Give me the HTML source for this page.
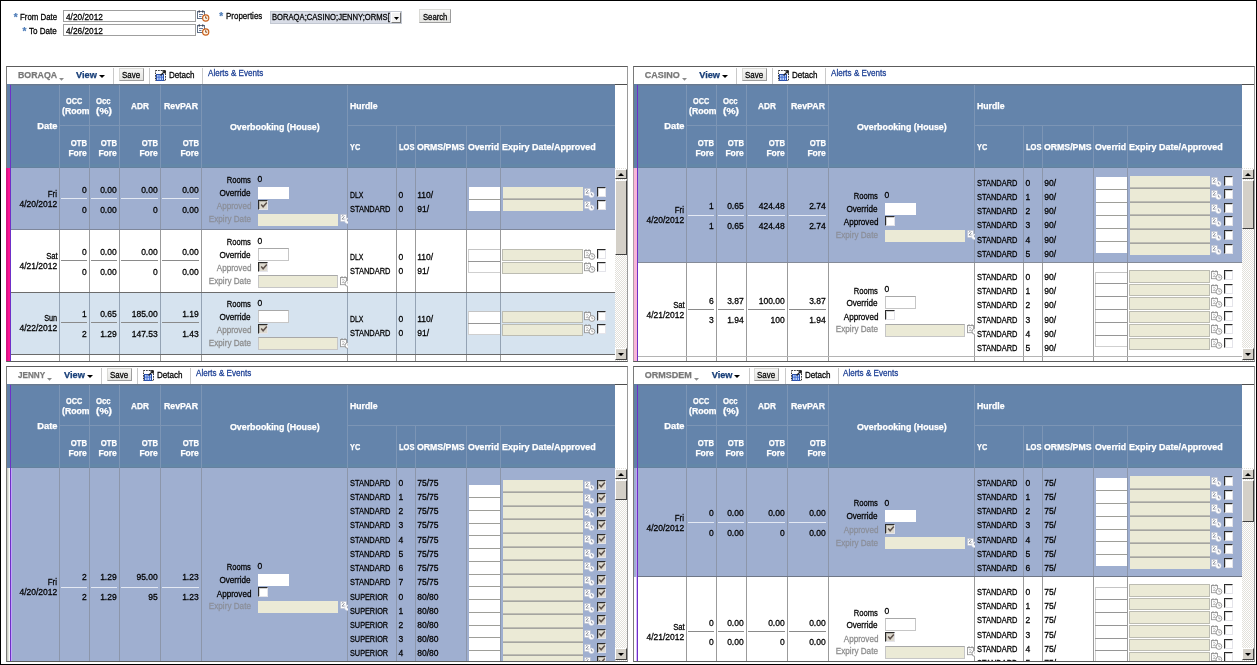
<!DOCTYPE html><html><head><meta charset="utf-8"><title>Overbooking</title><style>

html,body{margin:0;padding:0;}
body{width:1257px;height:665px;position:relative;overflow:hidden;background:#fff;font-family:"Liberation Sans",sans-serif;font-size:8.5px;}
.a{position:absolute;}
.t{position:absolute;white-space:pre;font-size:8.5px;line-height:10px;height:10px;color:#000;-webkit-text-stroke:0.26px;}
.b{font-weight:bold;-webkit-text-stroke:0.25px;}
.cb{position:absolute;width:9.5px;box-sizing:border-box;border:1px solid #E4E4EA;border-top:1px solid #2a2a2a;border-left:1px solid #2a2a2a;box-shadow:inset 1px 1px 0 rgba(0,0,0,0.18);}
.btn{box-sizing:border-box;background:linear-gradient(#F6F6F5,#E4E4E1);border:1px solid #DADAD6;border-right-color:#9c9c9c;border-bottom-color:#9c9c9c;}
.sbtrack{background:conic-gradient(#fff 25%,#E2E0DA 0 50%,#fff 0 75%,#E2E0DA 0) 0 0/2px 2px;}
.sbbtn{width:12px;box-sizing:border-box;background:#D4D0C8;border:1px solid #fff;border-right-color:#404040;border-bottom-color:#404040;}

</style></head><body><div class="a" style="left:0;top:0;width:1257px;height:665px;will-change:transform;">
<div class="t b" style="left:13.80px;top:12.5px;font-size:10px;color:#4f7db8;">*</div>
<div class="t" style="left:20.00px;top:12px;transform:scaleX(0.9239);transform-origin:0 0;">From Date</div>
<div class="t b" style="left:22.60px;top:26.5px;font-size:10px;color:#4f7db8;">*</div>
<div class="t" style="left:29.30px;top:26px;transform:scaleX(0.9489);transform-origin:0 0;">To Date</div>
<div class="a" style="left:63px;top:10px;width:133px;height:12px;background:#fff;box-sizing:border-box;border:1px solid #9f9f9f;"></div>
<div class="a" style="left:63px;top:24px;width:133px;height:12px;background:#fff;box-sizing:border-box;border:1px solid #9f9f9f;"></div>
<div class="t" style="left:66.40px;top:12px;transform:scaleX(0.9755);transform-origin:0 0;">4/20/2012</div>
<div class="t" style="left:66.40px;top:26px;transform:scaleX(0.9755);transform-origin:0 0;">4/26/2012</div>
<svg class="a" style="left:197px;top:10px" width="13" height="12" viewBox="0 0 13 12"><rect x="0.5" y="1.5" width="7" height="7" fill="#fff" stroke="#5f6f86"/><path d="M2.2 0.3v2.4M5.8 0.3v2.4" stroke="#334" stroke-width="1"/><path d="M2 4.5h4M2 6.5h2.5" stroke="#6a7a9a" stroke-width="1"/><circle cx="8.7" cy="8" r="3.1" fill="#fff6e8" stroke="#c9601c" stroke-width="1.2"/><path d="M8.7 6.2v2h1.5" stroke="#7a3a10" stroke-width="0.9" fill="none"/></svg>
<svg class="a" style="left:197px;top:24px" width="13" height="12" viewBox="0 0 13 12"><rect x="0.5" y="1.5" width="7" height="7" fill="#fff" stroke="#5f6f86"/><path d="M2.2 0.3v2.4M5.8 0.3v2.4" stroke="#334" stroke-width="1"/><path d="M2 4.5h4M2 6.5h2.5" stroke="#6a7a9a" stroke-width="1"/><circle cx="8.7" cy="8" r="3.1" fill="#fff6e8" stroke="#c9601c" stroke-width="1.2"/><path d="M8.7 6.2v2h1.5" stroke="#7a3a10" stroke-width="0.9" fill="none"/></svg>
<div class="t b" style="left:219.30px;top:11.5px;font-size:10px;color:#4f7db8;">*</div>
<div class="t" style="left:225.60px;top:11px;transform:scaleX(0.9368);transform-origin:0 0;">Properties</div>
<div class="a" style="left:270px;top:11px;width:132px;height:13px;background:#D8DCE6;box-sizing:border-box;border:1px solid #C3C8D2;"></div>
<div class="t" style="left:272.20px;top:12px;transform:scaleX(0.8977);transform-origin:0 0;">BORAQA;CASINO;JENNY;ORMS[</div>
<div class="a" style="left:391px;top:12px;width:10px;height:11px;box-sizing:border-box;background:#f3f3f3;border:1px solid #fff;border-right-color:#777;border-bottom-color:#777;"><svg width="5" height="3" viewBox="0 0 5 3" style="position:absolute;left:1.5px;top:4px"><path d="M0 0L2.5 3L5 0z" fill="#000"/></svg></div>
<div class="a btn" style="left:419px;top:9px;width:32px;height:14px"></div>
<div class="t" style="left:422.60px;top:12px;transform:scaleX(0.9021);transform-origin:0 0;">Search</div>
<div class="a" style="left:6px;top:66px;width:622px;height:296px;background:#fff;"></div>
<div class="t b" style="left:17.70px;top:70px;transform:scaleX(0.9775);transform-origin:0 0;font-size:9px;color:#787878;">BORAQA</div>
<svg class="a" style="left:58.8px;top:77.6px" width="5" height="3" viewBox="0 0 5 3"><path d="M0 0h5L2.5 2.8z" fill="#8c8c8c"/></svg>
<div class="t b" style="left:76.10px;top:70px;font-size:9.2px;color:#173E78;">View</div>
<svg class="a" style="left:98.7px;top:75px" width="6" height="3" viewBox="0 0 6 3"><path d="M0 0h6L3 3z" fill="#000"/></svg>
<div class="a" style="left:113px;top:68px;width:1px;height:16px;background:#c9c9c9;"></div>
<div class="a" style="left:149px;top:68px;width:1px;height:16px;background:#c9c9c9;"></div>
<div class="a" style="left:202px;top:68px;width:1px;height:16px;background:#c9c9c9;"></div>
<div class="a btn" style="left:119px;top:68px;width:25px;height:13px"></div>
<div class="t" style="left:122.20px;top:70px;transform:scaleX(0.9342);transform-origin:0 0;">Save</div>
<svg class="a" style="left:155px;top:70px" width="12" height="11" viewBox="0 0 12 11"><rect x="0.5" y="0.5" width="10" height="10" fill="#fff" stroke="#333" stroke-dasharray="1.6 1"/><rect x="1.5" y="4.5" width="7" height="6" fill="#b9d0f8" stroke="#2a4fa8"/><path d="M2 7.2h6M4 5v5.5M6.5 5v5.5" stroke="#3e6ad0" stroke-width="0.9"/><path d="M5.5 5.5L10 1M7.2 0.8h3v3" stroke="#222" stroke-width="1.2" fill="none"/></svg>
<div class="t" style="left:169.20px;top:70px;transform:scaleX(0.9466);transform-origin:0 0;">Detach</div>
<div class="t" style="left:207.60px;top:68px;transform:scaleX(0.9499);transform-origin:0 0;color:#1c3f94;">Alerts &amp; Events</div>
<div class="a" style="left:7px;top:84px;width:620px;height:1px;background:#4e4e4e;"></div>
<div class="a" style="left:7px;top:84px;width:608px;height:1px;background:#5A6E88;"></div>
<div class="a" style="left:7px;top:84px;width:608px;height:84px;background:#6484AB;"></div>
<div class="a" style="left:7px;top:84px;width:608px;height:1px;background:#67798F;"></div>
<div class="a" style="left:7px;top:85px;width:608px;height:1px;background:#69809E;"></div>
<div class="a" style="left:7px;top:164px;width:608px;height:3px;background:#6387A8;"></div>
<div class="a" style="left:7px;top:167px;width:608px;height:1px;background:#66819E;"></div>
<div class="a" style="left:7px;top:84px;width:3px;height:84px;background:#6080A6;"></div>
<div class="a" style="left:59px;top:85px;width:1px;height:83px;background:#7C95B5;"></div>
<div class="a" style="left:89px;top:85px;width:1px;height:83px;background:#7C95B5;"></div>
<div class="a" style="left:119px;top:85px;width:1px;height:83px;background:#7C95B5;"></div>
<div class="a" style="left:160px;top:85px;width:1px;height:83px;background:#7C95B5;"></div>
<div class="a" style="left:201px;top:85px;width:1px;height:83px;background:#7C95B5;"></div>
<div class="a" style="left:347px;top:85px;width:1px;height:83px;background:#7C95B5;"></div>
<div class="a" style="left:396px;top:126px;width:1px;height:42px;background:#7C95B5;"></div>
<div class="a" style="left:415px;top:126px;width:1px;height:42px;background:#7C95B5;"></div>
<div class="a" style="left:466px;top:126px;width:1px;height:42px;background:#7C95B5;"></div>
<div class="a" style="left:500px;top:126px;width:1px;height:42px;background:#7C95B5;"></div>
<div class="a" style="left:60px;top:125px;width:141px;height:1px;background:#7C95B5;"></div>
<div class="a" style="left:348px;top:125px;width:267px;height:1px;background:#7C95B5;"></div>
<div class="t b" style="left:38.86px;top:120.6px;transform:scaleX(1.0956);transform-origin:100% 0;color:#fff;">Date</div>
<div class="t b" style="left:65.70px;top:96px;transform:scaleX(0.8576);transform-origin:0 0;color:#fff;">OCC</div>
<div class="a" style="left:61.50px;top:106px;width:27.5px;height:11px;overflow:hidden"><div class="t b" style="left:0;top:0;transform:scaleX(1.0215);transform-origin:0 0;color:#fff;">(Room</div></div>
<div class="t b" style="left:96.40px;top:96px;transform:scaleX(0.9143);transform-origin:0 0;color:#fff;">Occ</div>
<div class="t b" style="left:96.40px;top:106px;transform:scaleX(1.2014);transform-origin:0 0;color:#fff;">(%)</div>
<div class="t b" style="left:130.80px;top:101.3px;transform:scaleX(0.9717);transform-origin:0 0;color:#fff;">ADR</div>
<div class="t b" style="left:164.00px;top:101.3px;transform:scaleX(1.0327);transform-origin:0 0;color:#fff;">RevPAR</div>
<div class="t b" style="left:68.85px;top:138px;transform:scaleX(0.9023);transform-origin:100% 0;color:#fff;">OTB</div>
<div class="t b" style="left:68.38px;top:148px;color:#fff;">Fore</div>
<div class="t b" style="left:98.85px;top:138px;transform:scaleX(0.9023);transform-origin:100% 0;color:#fff;">OTB</div>
<div class="t b" style="left:98.38px;top:148px;color:#fff;">Fore</div>
<div class="t b" style="left:139.85px;top:138px;transform:scaleX(0.9023);transform-origin:100% 0;color:#fff;">OTB</div>
<div class="t b" style="left:139.38px;top:148px;color:#fff;">Fore</div>
<div class="t b" style="left:180.85px;top:138px;transform:scaleX(0.9023);transform-origin:100% 0;color:#fff;">OTB</div>
<div class="t b" style="left:180.38px;top:148px;color:#fff;">Fore</div>
<div class="t b" style="left:229.80px;top:121.80000000000001px;transform:scaleX(1.0377);transform-origin:0 0;color:#fff;">Overbooking (House)</div>
<div class="t b" style="left:349.90px;top:101.3px;transform:scaleX(1.0215);transform-origin:0 0;color:#fff;">Hurdle</div>
<div class="t b" style="left:349.90px;top:142.3px;transform:scaleX(0.8635);transform-origin:0 0;color:#fff;">YC</div>
<div class="t b" style="left:398.50px;top:142.3px;transform:scaleX(0.8865);transform-origin:0 0;color:#fff;">LOS</div>
<div class="t b" style="left:417.30px;top:142.3px;transform:scaleX(1.0263);transform-origin:0 0;color:#fff;">ORMS/PMS</div>
<div class="a" style="left:468.40px;top:142.3px;width:31.2px;height:11px;overflow:hidden"><div class="t b" style="left:0;top:0;transform:scaleX(1.0248);transform-origin:0 0;color:#fff;">Overrid</div></div>
<div class="t b" style="left:502.40px;top:142.3px;transform:scaleX(1.0562);transform-origin:0 0;color:#fff;">Expiry Date/Approved</div>
<div class="a" style="left:7px;top:168px;width:608px;height:193px;overflow:hidden;">
<div class="a" style="left:0px;top:0px;width:608px;height:62px;background:#9FAFD0;"></div>
<div class="a" style="left:0px;top:0px;width:4px;height:62px;background:linear-gradient(90deg,#D31383,#FA1491 35%,#FF1593 60%,#DC1488);"></div>
<div class="a" style="left:52px;top:0px;width:1px;height:62px;background:#8C96AA;"></div>
<div class="a" style="left:82px;top:0px;width:1px;height:62px;background:#8C96AA;"></div>
<div class="a" style="left:112px;top:0px;width:1px;height:62px;background:#8C96AA;"></div>
<div class="a" style="left:153px;top:0px;width:1px;height:62px;background:#8C96AA;"></div>
<div class="a" style="left:194px;top:0px;width:1px;height:62px;background:#8C96AA;"></div>
<div class="a" style="left:340px;top:0px;width:1px;height:62px;background:#8C96AA;"></div>
<div class="a" style="left:389px;top:0px;width:1px;height:62px;background:#8C96AA;"></div>
<div class="a" style="left:408px;top:0px;width:1px;height:62px;background:#8C96AA;"></div>
<div class="a" style="left:459px;top:0px;width:1px;height:62px;background:#8C96AA;"></div>
<div class="a" style="left:493px;top:0px;width:1px;height:62px;background:#8C96AA;"></div>
<div class="a" style="left:4px;top:61px;width:604px;height:1px;background:#7E879B;"></div>
<div class="t" style="left:40.38px;top:21px;transform:scaleX(0.9272);transform-origin:100% 0;">Fri</div>
<div class="t" style="left:12.47px;top:31px;">4/20/2012</div>
<div class="t" style="left:74.97px;top:17px;">0</div>
<div class="t" style="left:74.97px;top:37px;">0</div>
<div class="a" style="left:54px;top:30px;width:26px;height:1px;background:#E4E9F3;"></div>
<div class="t" style="left:93.15px;top:17px;">0.00</div>
<div class="t" style="left:93.15px;top:37px;">0.00</div>
<div class="a" style="left:84px;top:30px;width:26px;height:1px;background:#E4E9F3;"></div>
<div class="t" style="left:134.15px;top:17px;">0.00</div>
<div class="t" style="left:145.97px;top:37px;">0</div>
<div class="a" style="left:114px;top:30px;width:37px;height:1px;background:#E4E9F3;"></div>
<div class="t" style="left:175.15px;top:17px;">0.00</div>
<div class="t" style="left:175.15px;top:37px;">0.00</div>
<div class="a" style="left:155px;top:30px;width:37px;height:1px;background:#E4E9F3;"></div>
<div class="t" style="left:217.06px;top:7px;transform:scaleX(0.8984);transform-origin:100% 0;">Rooms</div>
<div class="t" style="left:250.40px;top:6px;">0</div>
<div class="t" style="left:211.41px;top:20px;transform:scaleX(0.9572);transform-origin:100% 0;">Override</div>
<div class="a" style="left:251px;top:19px;width:31px;height:11.5px;background:#fff;"></div>
<div class="t" style="left:207.61px;top:33px;transform:scaleX(0.9508);transform-origin:100% 0;color:#8b8f9a;">Approved</div>
<div class="cb" style="left:251px;top:32px;height:9.5px;background:#DDD9CF"><svg width="8" height="8" viewBox="0 0 8 8" style="position:absolute;left:0.5px;top:0px"><path d="M1.2 3.6l1.9 2.2l3.7-4.4" stroke="#5d514b" stroke-width="1.5" fill="none"/></svg></div>
<div class="t" style="left:200.06px;top:46px;transform:scaleX(0.9582);transform-origin:100% 0;color:#8b8f9a;">Expiry Date</div>
<div class="a" style="left:251px;top:46px;width:80px;height:11.5px;background:#EBEAD6;"></div>
<div class="a" style="left:332.5px;top:46px;width:8.5px;height:12px;overflow:hidden">
<svg class="a" style="left:0px;top:0px" width="11" height="10" viewBox="0 0 11 10"><rect x="0.3" y="0.3" width="6.2" height="7.4" fill="#fff" stroke="#aeb5c6" stroke-width="0.6"/><path d="M1.6 2.6l1.4-1.2l1.3 1.3l-2.4 2.4h2.8" stroke="#8a8f9c" stroke-width="0.9" fill="none"/><circle cx="7.4" cy="6.8" r="2.7" fill="#fff" stroke="#cfd4e0" stroke-width="0.6"/><path d="M7.4 5.2v1.8h1.5" stroke="#7c8294" stroke-width="0.8" fill="none"/></svg>
</div>
<div class="t" style="left:342.60px;top:22px;transform:scaleX(0.8098);transform-origin:0 0;">DLX</div>
<div class="t" style="left:391.60px;top:22px;">0</div>
<div class="t" style="left:410.20px;top:22px;">110/</div>
<div class="t" style="left:342.60px;top:36px;transform:scaleX(0.8759);transform-origin:0 0;">STANDARD</div>
<div class="t" style="left:391.60px;top:36px;">0</div>
<div class="t" style="left:410.20px;top:36px;">91/</div>
<div class="a" style="left:462px;top:19px;width:31px;height:12px;background:#fff;"></div>
<div class="a" style="left:462px;top:31px;width:31px;height:1px;background:#9E9E99;"></div>
<div class="a" style="left:496px;top:19px;width:80px;height:11px;background:#EBEAD6;"></div>
<div class="a" style="left:496px;top:30px;width:80px;height:1px;background:#BDBCB3;"></div>
<div class="a" style="left:496px;top:31px;width:80px;height:1px;background:#A5A5A0;"></div>
<svg class="a" style="left:576.9px;top:20px" width="11" height="10" viewBox="0 0 11 10"><rect x="0.3" y="0.3" width="6.2" height="7.4" fill="#fff" stroke="#aeb5c6" stroke-width="0.6"/><path d="M1.6 2.6l1.4-1.2l1.3 1.3l-2.4 2.4h2.8" stroke="#8a8f9c" stroke-width="0.9" fill="none"/><circle cx="7.4" cy="6.8" r="2.7" fill="#fff" stroke="#cfd4e0" stroke-width="0.6"/><path d="M7.4 5.2v1.8h1.5" stroke="#7c8294" stroke-width="0.8" fill="none"/></svg>
<div class="cb" style="left:589.8px;top:19px;height:9.5px;background:#fff"></div>
<div class="a" style="left:462px;top:32px;width:31px;height:11px;background:#fff;"></div>
<div class="a" style="left:496px;top:32px;width:80px;height:11px;background:#EBEAD6;"></div>
<svg class="a" style="left:576.9px;top:33px" width="11" height="10" viewBox="0 0 11 10"><rect x="0.3" y="0.3" width="6.2" height="7.4" fill="#fff" stroke="#aeb5c6" stroke-width="0.6"/><path d="M1.6 2.6l1.4-1.2l1.3 1.3l-2.4 2.4h2.8" stroke="#8a8f9c" stroke-width="0.9" fill="none"/><circle cx="7.4" cy="6.8" r="2.7" fill="#fff" stroke="#cfd4e0" stroke-width="0.6"/><path d="M7.4 5.2v1.8h1.5" stroke="#7c8294" stroke-width="0.8" fill="none"/></svg>
<div class="cb" style="left:589.8px;top:32px;height:9.5px;background:#fff"></div>
<div class="a" style="left:0px;top:62px;width:608px;height:63px;background:#FFFFFF;"></div>
<div class="a" style="left:0px;top:62px;width:4px;height:63px;background:linear-gradient(90deg,#D31383,#FA1491 35%,#FF1593 60%,#DC1488);"></div>
<div class="a" style="left:52px;top:62px;width:1px;height:63px;background:#9B9B9B;"></div>
<div class="a" style="left:82px;top:62px;width:1px;height:63px;background:#9B9B9B;"></div>
<div class="a" style="left:112px;top:62px;width:1px;height:63px;background:#9B9B9B;"></div>
<div class="a" style="left:153px;top:62px;width:1px;height:63px;background:#9B9B9B;"></div>
<div class="a" style="left:194px;top:62px;width:1px;height:63px;background:#9B9B9B;"></div>
<div class="a" style="left:340px;top:62px;width:1px;height:63px;background:#9B9B9B;"></div>
<div class="a" style="left:389px;top:62px;width:1px;height:63px;background:#9B9B9B;"></div>
<div class="a" style="left:408px;top:62px;width:1px;height:63px;background:#9B9B9B;"></div>
<div class="a" style="left:459px;top:62px;width:1px;height:63px;background:#9B9B9B;"></div>
<div class="a" style="left:493px;top:62px;width:1px;height:63px;background:#9B9B9B;"></div>
<div class="a" style="left:4px;top:124px;width:604px;height:1px;background:#6C6C6C;"></div>
<div class="t" style="left:37.53px;top:83px;transform:scaleX(0.9087);transform-origin:100% 0;">Sat</div>
<div class="t" style="left:12.47px;top:93px;">4/21/2012</div>
<div class="t" style="left:74.97px;top:79px;">0</div>
<div class="t" style="left:74.97px;top:99px;">0</div>
<div class="a" style="left:54px;top:92px;width:26px;height:1px;background:#8a8a8a;"></div>
<div class="t" style="left:93.15px;top:79px;">0.00</div>
<div class="t" style="left:93.15px;top:99px;">0.00</div>
<div class="a" style="left:84px;top:92px;width:26px;height:1px;background:#8a8a8a;"></div>
<div class="t" style="left:134.15px;top:79px;">0.00</div>
<div class="t" style="left:145.97px;top:99px;">0</div>
<div class="a" style="left:114px;top:92px;width:37px;height:1px;background:#8a8a8a;"></div>
<div class="t" style="left:175.15px;top:79px;">0.00</div>
<div class="t" style="left:175.15px;top:99px;">0.00</div>
<div class="a" style="left:155px;top:92px;width:37px;height:1px;background:#8a8a8a;"></div>
<div class="t" style="left:217.06px;top:69px;transform:scaleX(0.8984);transform-origin:100% 0;">Rooms</div>
<div class="t" style="left:250.40px;top:68px;">0</div>
<div class="t" style="left:211.41px;top:82px;transform:scaleX(0.9572);transform-origin:100% 0;">Override</div>
<div class="a" style="left:251px;top:80px;width:31px;height:13px;background:#fff;box-sizing:border-box;border:1px solid #c6c6c6;border-top-color:#a8a8a8;"></div>
<div class="t" style="left:207.61px;top:95px;transform:scaleX(0.9508);transform-origin:100% 0;color:#8d8d8d;">Approved</div>
<div class="cb" style="left:251px;top:94px;height:9.5px;background:#DDD9CF"><svg width="8" height="8" viewBox="0 0 8 8" style="position:absolute;left:0.5px;top:0px"><path d="M1.2 3.6l1.9 2.2l3.7-4.4" stroke="#5d514b" stroke-width="1.5" fill="none"/></svg></div>
<div class="t" style="left:200.06px;top:108px;transform:scaleX(0.9582);transform-origin:100% 0;color:#8d8d8d;">Expiry Date</div>
<div class="a" style="left:251px;top:107px;width:80px;height:12.5px;background:#EBEAD6;box-sizing:border-box;border:1px solid #c6c6c6;border-top-color:#a8a8a8;"></div>
<div class="a" style="left:332.5px;top:108px;width:8.5px;height:12px;overflow:hidden">
<svg class="a" style="left:0px;top:0px" width="12" height="11" viewBox="0 0 12 11"><rect x="0.5" y="1.5" width="6" height="7.2" fill="#fff" stroke="#979797" stroke-width="0.9"/><path d="M2 0.2v2M5 0.2v2" stroke="#8e8e8e" stroke-width="1"/><path d="M2 4.2l1.2-1l1.2 1.1l-2.2 2.3h2.6" stroke="#a9a9a9" stroke-width="0.8" fill="none"/><circle cx="7.9" cy="7.5" r="2.9" fill="#fff" stroke="#8f8f8f" stroke-width="0.9"/><path d="M7.9 5.9v1.8h1.5" stroke="#9a9a9a" stroke-width="0.8" fill="none"/></svg>
</div>
<div class="t" style="left:342.60px;top:84px;transform:scaleX(0.8098);transform-origin:0 0;">DLX</div>
<div class="t" style="left:391.60px;top:84px;">0</div>
<div class="t" style="left:410.20px;top:84px;">110/</div>
<div class="t" style="left:342.60px;top:98px;transform:scaleX(0.8759);transform-origin:0 0;">STANDARD</div>
<div class="t" style="left:391.60px;top:98px;">0</div>
<div class="t" style="left:410.20px;top:98px;">91/</div>
<div class="a" style="left:461px;top:81px;width:32px;height:12px;background:#fff;box-sizing:border-box;border-left:1px solid #d2d2d2;border-top:1px solid #c4c4c4;"></div>
<div class="a" style="left:461px;top:93px;width:32px;height:1px;background:#969696;"></div>
<div class="a" style="left:495px;top:81px;width:81px;height:12px;background:#EBEAD6;box-sizing:border-box;border:1px solid #BCBCB2;"></div>
<svg class="a" style="left:576.9px;top:81px" width="12" height="11" viewBox="0 0 12 11"><rect x="0.5" y="1.5" width="6" height="7.2" fill="#fff" stroke="#979797" stroke-width="0.9"/><path d="M2 0.2v2M5 0.2v2" stroke="#8e8e8e" stroke-width="1"/><path d="M2 4.2l1.2-1l1.2 1.1l-2.2 2.3h2.6" stroke="#a9a9a9" stroke-width="0.8" fill="none"/><circle cx="7.9" cy="7.5" r="2.9" fill="#fff" stroke="#8f8f8f" stroke-width="0.9"/><path d="M7.9 5.9v1.8h1.5" stroke="#9a9a9a" stroke-width="0.8" fill="none"/></svg>
<div class="cb" style="left:589.8px;top:81px;height:9.5px;background:#fff"></div>
<div class="a" style="left:461px;top:94px;width:32px;height:11px;background:#fff;box-sizing:border-box;border-left:1px solid #d2d2d2;border-bottom:1px solid #cfcfcf;"></div>
<div class="a" style="left:495px;top:94px;width:81px;height:12px;background:#EBEAD6;box-sizing:border-box;border:1px solid #BCBCB2;"></div>
<svg class="a" style="left:576.9px;top:94px" width="12" height="11" viewBox="0 0 12 11"><rect x="0.5" y="1.5" width="6" height="7.2" fill="#fff" stroke="#979797" stroke-width="0.9"/><path d="M2 0.2v2M5 0.2v2" stroke="#8e8e8e" stroke-width="1"/><path d="M2 4.2l1.2-1l1.2 1.1l-2.2 2.3h2.6" stroke="#a9a9a9" stroke-width="0.8" fill="none"/><circle cx="7.9" cy="7.5" r="2.9" fill="#fff" stroke="#8f8f8f" stroke-width="0.9"/><path d="M7.9 5.9v1.8h1.5" stroke="#9a9a9a" stroke-width="0.8" fill="none"/></svg>
<div class="cb" style="left:589.8px;top:94px;height:9.5px;background:#fff"></div>
<div class="a" style="left:0px;top:125px;width:608px;height:62px;background:#D6E3EF;"></div>
<div class="a" style="left:0px;top:125px;width:4px;height:62px;background:linear-gradient(90deg,#D31383,#FA1491 35%,#FF1593 60%,#DC1488);"></div>
<div class="a" style="left:52px;top:125px;width:1px;height:62px;background:#94A3B4;"></div>
<div class="a" style="left:82px;top:125px;width:1px;height:62px;background:#94A3B4;"></div>
<div class="a" style="left:112px;top:125px;width:1px;height:62px;background:#94A3B4;"></div>
<div class="a" style="left:153px;top:125px;width:1px;height:62px;background:#94A3B4;"></div>
<div class="a" style="left:194px;top:125px;width:1px;height:62px;background:#94A3B4;"></div>
<div class="a" style="left:340px;top:125px;width:1px;height:62px;background:#94A3B4;"></div>
<div class="a" style="left:389px;top:125px;width:1px;height:62px;background:#94A3B4;"></div>
<div class="a" style="left:408px;top:125px;width:1px;height:62px;background:#94A3B4;"></div>
<div class="a" style="left:459px;top:125px;width:1px;height:62px;background:#94A3B4;"></div>
<div class="a" style="left:493px;top:125px;width:1px;height:62px;background:#94A3B4;"></div>
<div class="a" style="left:4px;top:186px;width:604px;height:1px;background:#6A6A6A;"></div>
<div class="t" style="left:35.17px;top:145px;transform:scaleX(0.8595);transform-origin:100% 0;">Sun</div>
<div class="t" style="left:12.47px;top:155px;">4/22/2012</div>
<div class="t" style="left:74.97px;top:141px;">1</div>
<div class="t" style="left:74.97px;top:161px;">2</div>
<div class="a" style="left:54px;top:154px;width:26px;height:1px;background:#8a8a8a;"></div>
<div class="t" style="left:93.15px;top:141px;">0.65</div>
<div class="t" style="left:93.15px;top:161px;">1.29</div>
<div class="a" style="left:84px;top:154px;width:26px;height:1px;background:#8a8a8a;"></div>
<div class="t" style="left:124.70px;top:141px;">185.00</div>
<div class="t" style="left:124.70px;top:161px;">147.53</div>
<div class="a" style="left:114px;top:154px;width:37px;height:1px;background:#8a8a8a;"></div>
<div class="t" style="left:175.15px;top:141px;">1.19</div>
<div class="t" style="left:175.15px;top:161px;">1.43</div>
<div class="a" style="left:155px;top:154px;width:37px;height:1px;background:#8a8a8a;"></div>
<div class="t" style="left:217.06px;top:131px;transform:scaleX(0.8984);transform-origin:100% 0;">Rooms</div>
<div class="t" style="left:250.40px;top:130px;">0</div>
<div class="t" style="left:211.41px;top:144px;transform:scaleX(0.9572);transform-origin:100% 0;">Override</div>
<div class="a" style="left:251px;top:142px;width:31px;height:13px;background:#fff;box-sizing:border-box;border:1px solid #c6c6c6;border-top-color:#a8a8a8;"></div>
<div class="t" style="left:207.61px;top:157px;transform:scaleX(0.9508);transform-origin:100% 0;color:#8d8d8d;">Approved</div>
<div class="cb" style="left:251px;top:156px;height:9.5px;background:#DDD9CF"><svg width="8" height="8" viewBox="0 0 8 8" style="position:absolute;left:0.5px;top:0px"><path d="M1.2 3.6l1.9 2.2l3.7-4.4" stroke="#5d514b" stroke-width="1.5" fill="none"/></svg></div>
<div class="t" style="left:200.06px;top:170px;transform:scaleX(0.9582);transform-origin:100% 0;color:#8d8d8d;">Expiry Date</div>
<div class="a" style="left:251px;top:169px;width:80px;height:12.5px;background:#EBEAD6;box-sizing:border-box;border:1px solid #c6c6c6;border-top-color:#a8a8a8;"></div>
<div class="a" style="left:332.5px;top:170px;width:8.5px;height:12px;overflow:hidden">
<svg class="a" style="left:0px;top:0px" width="12" height="11" viewBox="0 0 12 11"><rect x="0.5" y="1.5" width="6" height="7.2" fill="#fff" stroke="#979797" stroke-width="0.9"/><path d="M2 0.2v2M5 0.2v2" stroke="#8e8e8e" stroke-width="1"/><path d="M2 4.2l1.2-1l1.2 1.1l-2.2 2.3h2.6" stroke="#a9a9a9" stroke-width="0.8" fill="none"/><circle cx="7.9" cy="7.5" r="2.9" fill="#fff" stroke="#8f8f8f" stroke-width="0.9"/><path d="M7.9 5.9v1.8h1.5" stroke="#9a9a9a" stroke-width="0.8" fill="none"/></svg>
</div>
<div class="t" style="left:342.60px;top:146px;transform:scaleX(0.8098);transform-origin:0 0;">DLX</div>
<div class="t" style="left:391.60px;top:146px;">0</div>
<div class="t" style="left:410.20px;top:146px;">110/</div>
<div class="t" style="left:342.60px;top:160px;transform:scaleX(0.8759);transform-origin:0 0;">STANDARD</div>
<div class="t" style="left:391.60px;top:160px;">0</div>
<div class="t" style="left:410.20px;top:160px;">91/</div>
<div class="a" style="left:461px;top:143px;width:32px;height:12px;background:#fff;box-sizing:border-box;border-left:1px solid #d2d2d2;border-top:1px solid #c4c4c4;"></div>
<div class="a" style="left:461px;top:155px;width:32px;height:1px;background:#969696;"></div>
<div class="a" style="left:495px;top:143px;width:81px;height:12px;background:#EBEAD6;box-sizing:border-box;border:1px solid #BCBCB2;"></div>
<svg class="a" style="left:576.9px;top:143px" width="12" height="11" viewBox="0 0 12 11"><rect x="0.5" y="1.5" width="6" height="7.2" fill="#fff" stroke="#979797" stroke-width="0.9"/><path d="M2 0.2v2M5 0.2v2" stroke="#8e8e8e" stroke-width="1"/><path d="M2 4.2l1.2-1l1.2 1.1l-2.2 2.3h2.6" stroke="#a9a9a9" stroke-width="0.8" fill="none"/><circle cx="7.9" cy="7.5" r="2.9" fill="#fff" stroke="#8f8f8f" stroke-width="0.9"/><path d="M7.9 5.9v1.8h1.5" stroke="#9a9a9a" stroke-width="0.8" fill="none"/></svg>
<div class="cb" style="left:589.8px;top:143px;height:9.5px;background:#fff"></div>
<div class="a" style="left:461px;top:156px;width:32px;height:11px;background:#fff;box-sizing:border-box;border-left:1px solid #d2d2d2;border-bottom:1px solid #cfcfcf;"></div>
<div class="a" style="left:495px;top:156px;width:81px;height:12px;background:#EBEAD6;box-sizing:border-box;border:1px solid #BCBCB2;"></div>
<svg class="a" style="left:576.9px;top:156px" width="12" height="11" viewBox="0 0 12 11"><rect x="0.5" y="1.5" width="6" height="7.2" fill="#fff" stroke="#979797" stroke-width="0.9"/><path d="M2 0.2v2M5 0.2v2" stroke="#8e8e8e" stroke-width="1"/><path d="M2 4.2l1.2-1l1.2 1.1l-2.2 2.3h2.6" stroke="#a9a9a9" stroke-width="0.8" fill="none"/><circle cx="7.9" cy="7.5" r="2.9" fill="#fff" stroke="#8f8f8f" stroke-width="0.9"/><path d="M7.9 5.9v1.8h1.5" stroke="#9a9a9a" stroke-width="0.8" fill="none"/></svg>
<div class="cb" style="left:589.8px;top:156px;height:9.5px;background:#fff"></div>
<div class="a" style="left:0px;top:187px;width:608px;height:10px;background:#FFFFFF;"></div>
<div class="a" style="left:0px;top:187px;width:4px;height:10px;background:linear-gradient(90deg,#D31383,#FA1491 35%,#FF1593 60%,#DC1488);"></div>
<div class="a" style="left:52px;top:187px;width:1px;height:10px;background:#9B9B9B;"></div>
<div class="a" style="left:82px;top:187px;width:1px;height:10px;background:#9B9B9B;"></div>
<div class="a" style="left:112px;top:187px;width:1px;height:10px;background:#9B9B9B;"></div>
<div class="a" style="left:153px;top:187px;width:1px;height:10px;background:#9B9B9B;"></div>
<div class="a" style="left:194px;top:187px;width:1px;height:10px;background:#9B9B9B;"></div>
<div class="a" style="left:340px;top:187px;width:1px;height:10px;background:#9B9B9B;"></div>
<div class="a" style="left:389px;top:187px;width:1px;height:10px;background:#9B9B9B;"></div>
<div class="a" style="left:408px;top:187px;width:1px;height:10px;background:#9B9B9B;"></div>
<div class="a" style="left:459px;top:187px;width:1px;height:10px;background:#9B9B9B;"></div>
<div class="a" style="left:493px;top:187px;width:1px;height:10px;background:#9B9B9B;"></div>
</div>
<div class="a" style="left:10px;top:85px;width:1px;height:276px;background:#6E30C8;"></div>
<div class="a" style="left:615px;top:85px;width:12px;height:83px;background:#fff;"></div>
<div class="a sbtrack" style="left:615px;top:168px;width:12px;height:193px;"></div>
<div class="a sbbtn" style="left:615px;top:169px;height:10px"><svg width="6" height="3" viewBox="0 0 6 3" style="position:absolute;left:2px;top:3px"><path d="M0 3L3 0L6 3z" fill="#000"/></svg></div>
<div class="a sbbtn" style="left:615px;top:348px;height:12px"><svg width="6" height="3" viewBox="0 0 6 3" style="position:absolute;left:2px;top:4px"><path d="M0 0L3 3L6 0z" fill="#000"/></svg></div>
<div class="a sbbtn" style="left:615px;top:180px;height:75px"></div>
<div class="a" style="left:6px;top:66px;width:622px;height:296px;box-sizing:border-box;border:1px solid #5c5c5c;border-left-color:#7a7a7a;border-right-color:#9a9a9a;"></div>
<div class="a" style="left:6px;top:168px;width:1px;height:193px;background:#D31383;"></div>
<div class="a" style="left:633px;top:66px;width:622px;height:296px;background:#fff;"></div>
<div class="t b" style="left:644.70px;top:70px;font-size:9px;color:#787878;">CASINO</div>
<svg class="a" style="left:681.9px;top:77.6px" width="5" height="3" viewBox="0 0 5 3"><path d="M0 0h5L2.5 2.8z" fill="#8c8c8c"/></svg>
<div class="t b" style="left:699.20px;top:70px;font-size:9.2px;color:#173E78;">View</div>
<svg class="a" style="left:721.8px;top:75px" width="6" height="3" viewBox="0 0 6 3"><path d="M0 0h6L3 3z" fill="#000"/></svg>
<div class="a" style="left:736px;top:68px;width:1px;height:16px;background:#c9c9c9;"></div>
<div class="a" style="left:772px;top:68px;width:1px;height:16px;background:#c9c9c9;"></div>
<div class="a" style="left:825px;top:68px;width:1px;height:16px;background:#c9c9c9;"></div>
<div class="a btn" style="left:742px;top:68px;width:25px;height:13px"></div>
<div class="t" style="left:745.20px;top:70px;transform:scaleX(0.9342);transform-origin:0 0;">Save</div>
<svg class="a" style="left:778px;top:70px" width="12" height="11" viewBox="0 0 12 11"><rect x="0.5" y="0.5" width="10" height="10" fill="#fff" stroke="#333" stroke-dasharray="1.6 1"/><rect x="1.5" y="4.5" width="7" height="6" fill="#b9d0f8" stroke="#2a4fa8"/><path d="M2 7.2h6M4 5v5.5M6.5 5v5.5" stroke="#3e6ad0" stroke-width="0.9"/><path d="M5.5 5.5L10 1M7.2 0.8h3v3" stroke="#222" stroke-width="1.2" fill="none"/></svg>
<div class="t" style="left:792.30px;top:70px;transform:scaleX(0.9466);transform-origin:0 0;">Detach</div>
<div class="t" style="left:830.70px;top:68px;transform:scaleX(0.9499);transform-origin:0 0;color:#1c3f94;">Alerts &amp; Events</div>
<div class="a" style="left:634px;top:84px;width:620px;height:1px;background:#4e4e4e;"></div>
<div class="a" style="left:634px;top:84px;width:608px;height:1px;background:#5A6E88;"></div>
<div class="a" style="left:634px;top:84px;width:608px;height:84px;background:#6484AB;"></div>
<div class="a" style="left:634px;top:84px;width:608px;height:1px;background:#67798F;"></div>
<div class="a" style="left:634px;top:85px;width:608px;height:1px;background:#69809E;"></div>
<div class="a" style="left:634px;top:164px;width:608px;height:3px;background:#6387A8;"></div>
<div class="a" style="left:634px;top:167px;width:608px;height:1px;background:#66819E;"></div>
<div class="a" style="left:634px;top:84px;width:3px;height:84px;background:#6080A6;"></div>
<div class="a" style="left:686px;top:85px;width:1px;height:83px;background:#7C95B5;"></div>
<div class="a" style="left:716px;top:85px;width:1px;height:83px;background:#7C95B5;"></div>
<div class="a" style="left:746px;top:85px;width:1px;height:83px;background:#7C95B5;"></div>
<div class="a" style="left:787px;top:85px;width:1px;height:83px;background:#7C95B5;"></div>
<div class="a" style="left:828px;top:85px;width:1px;height:83px;background:#7C95B5;"></div>
<div class="a" style="left:974px;top:85px;width:1px;height:83px;background:#7C95B5;"></div>
<div class="a" style="left:1023px;top:126px;width:1px;height:42px;background:#7C95B5;"></div>
<div class="a" style="left:1042px;top:126px;width:1px;height:42px;background:#7C95B5;"></div>
<div class="a" style="left:1093px;top:126px;width:1px;height:42px;background:#7C95B5;"></div>
<div class="a" style="left:1127px;top:126px;width:1px;height:42px;background:#7C95B5;"></div>
<div class="a" style="left:687px;top:125px;width:141px;height:1px;background:#7C95B5;"></div>
<div class="a" style="left:975px;top:125px;width:267px;height:1px;background:#7C95B5;"></div>
<div class="t b" style="left:665.86px;top:120.6px;transform:scaleX(1.0956);transform-origin:100% 0;color:#fff;">Date</div>
<div class="t b" style="left:692.70px;top:96px;transform:scaleX(0.8576);transform-origin:0 0;color:#fff;">OCC</div>
<div class="a" style="left:688.50px;top:106px;width:27.5px;height:11px;overflow:hidden"><div class="t b" style="left:0;top:0;transform:scaleX(1.0215);transform-origin:0 0;color:#fff;">(Room</div></div>
<div class="t b" style="left:723.40px;top:96px;transform:scaleX(0.9143);transform-origin:0 0;color:#fff;">Occ</div>
<div class="t b" style="left:723.40px;top:106px;transform:scaleX(1.2014);transform-origin:0 0;color:#fff;">(%)</div>
<div class="t b" style="left:757.80px;top:101.3px;transform:scaleX(0.9717);transform-origin:0 0;color:#fff;">ADR</div>
<div class="t b" style="left:791.00px;top:101.3px;transform:scaleX(1.0327);transform-origin:0 0;color:#fff;">RevPAR</div>
<div class="t b" style="left:695.85px;top:138px;transform:scaleX(0.9023);transform-origin:100% 0;color:#fff;">OTB</div>
<div class="t b" style="left:695.38px;top:148px;color:#fff;">Fore</div>
<div class="t b" style="left:725.85px;top:138px;transform:scaleX(0.9023);transform-origin:100% 0;color:#fff;">OTB</div>
<div class="t b" style="left:725.38px;top:148px;color:#fff;">Fore</div>
<div class="t b" style="left:766.85px;top:138px;transform:scaleX(0.9023);transform-origin:100% 0;color:#fff;">OTB</div>
<div class="t b" style="left:766.38px;top:148px;color:#fff;">Fore</div>
<div class="t b" style="left:807.85px;top:138px;transform:scaleX(0.9023);transform-origin:100% 0;color:#fff;">OTB</div>
<div class="t b" style="left:807.38px;top:148px;color:#fff;">Fore</div>
<div class="t b" style="left:856.80px;top:121.80000000000001px;transform:scaleX(1.0377);transform-origin:0 0;color:#fff;">Overbooking (House)</div>
<div class="t b" style="left:976.90px;top:101.3px;transform:scaleX(1.0215);transform-origin:0 0;color:#fff;">Hurdle</div>
<div class="t b" style="left:976.90px;top:142.3px;transform:scaleX(0.8635);transform-origin:0 0;color:#fff;">YC</div>
<div class="t b" style="left:1025.50px;top:142.3px;transform:scaleX(0.8865);transform-origin:0 0;color:#fff;">LOS</div>
<div class="t b" style="left:1044.30px;top:142.3px;transform:scaleX(1.0263);transform-origin:0 0;color:#fff;">ORMS/PMS</div>
<div class="a" style="left:1095.40px;top:142.3px;width:31.2px;height:11px;overflow:hidden"><div class="t b" style="left:0;top:0;transform:scaleX(1.0248);transform-origin:0 0;color:#fff;">Overrid</div></div>
<div class="t b" style="left:1129.40px;top:142.3px;transform:scaleX(1.0562);transform-origin:0 0;color:#fff;">Expiry Date/Approved</div>
<div class="a" style="left:634px;top:168px;width:608px;height:193px;overflow:hidden;">
<div class="a" style="left:0px;top:0px;width:608px;height:95px;background:#9FAFD0;"></div>
<div class="a" style="left:0px;top:0px;width:4px;height:95px;background:#F8B5D8;"></div>
<div class="a" style="left:52px;top:0px;width:1px;height:95px;background:#8C96AA;"></div>
<div class="a" style="left:82px;top:0px;width:1px;height:95px;background:#8C96AA;"></div>
<div class="a" style="left:112px;top:0px;width:1px;height:95px;background:#8C96AA;"></div>
<div class="a" style="left:153px;top:0px;width:1px;height:95px;background:#8C96AA;"></div>
<div class="a" style="left:194px;top:0px;width:1px;height:95px;background:#8C96AA;"></div>
<div class="a" style="left:340px;top:0px;width:1px;height:95px;background:#8C96AA;"></div>
<div class="a" style="left:389px;top:0px;width:1px;height:95px;background:#8C96AA;"></div>
<div class="a" style="left:408px;top:0px;width:1px;height:95px;background:#8C96AA;"></div>
<div class="a" style="left:459px;top:0px;width:1px;height:95px;background:#8C96AA;"></div>
<div class="a" style="left:493px;top:0px;width:1px;height:95px;background:#8C96AA;"></div>
<div class="a" style="left:4px;top:94px;width:604px;height:1px;background:#858B98;"></div>
<div class="t" style="left:40.38px;top:37px;transform:scaleX(0.9272);transform-origin:100% 0;">Fri</div>
<div class="t" style="left:12.47px;top:47px;">4/20/2012</div>
<div class="t" style="left:74.97px;top:33px;">1</div>
<div class="t" style="left:74.97px;top:53px;">1</div>
<div class="a" style="left:54px;top:47px;width:26px;height:1px;background:#E4E9F3;"></div>
<div class="t" style="left:93.15px;top:33px;">0.65</div>
<div class="t" style="left:93.15px;top:53px;">0.65</div>
<div class="a" style="left:84px;top:47px;width:26px;height:1px;background:#E4E9F3;"></div>
<div class="t" style="left:124.70px;top:33px;">424.48</div>
<div class="t" style="left:124.70px;top:53px;">424.48</div>
<div class="a" style="left:114px;top:47px;width:37px;height:1px;background:#E4E9F3;"></div>
<div class="t" style="left:175.15px;top:33px;">2.74</div>
<div class="t" style="left:175.15px;top:53px;">2.74</div>
<div class="a" style="left:155px;top:47px;width:37px;height:1px;background:#E4E9F3;"></div>
<div class="t" style="left:217.06px;top:23px;transform:scaleX(0.8984);transform-origin:100% 0;">Rooms</div>
<div class="t" style="left:250.40px;top:22px;">0</div>
<div class="t" style="left:211.41px;top:36px;transform:scaleX(0.9572);transform-origin:100% 0;">Override</div>
<div class="a" style="left:251px;top:35px;width:31px;height:11.5px;background:#fff;"></div>
<div class="t" style="left:207.61px;top:49px;transform:scaleX(0.9508);transform-origin:100% 0;">Approved</div>
<div class="cb" style="left:251px;top:48px;height:9.5px;background:#fff"></div>
<div class="t" style="left:200.06px;top:62px;transform:scaleX(0.9582);transform-origin:100% 0;color:#8b8f9a;">Expiry Date</div>
<div class="a" style="left:251px;top:62px;width:80px;height:11.5px;background:#EBEAD6;"></div>
<div class="a" style="left:332.5px;top:62px;width:8.5px;height:12px;overflow:hidden">
<svg class="a" style="left:0px;top:0px" width="11" height="10" viewBox="0 0 11 10"><rect x="0.3" y="0.3" width="6.2" height="7.4" fill="#fff" stroke="#aeb5c6" stroke-width="0.6"/><path d="M1.6 2.6l1.4-1.2l1.3 1.3l-2.4 2.4h2.8" stroke="#8a8f9c" stroke-width="0.9" fill="none"/><circle cx="7.4" cy="6.8" r="2.7" fill="#fff" stroke="#cfd4e0" stroke-width="0.6"/><path d="M7.4 5.2v1.8h1.5" stroke="#7c8294" stroke-width="0.8" fill="none"/></svg>
</div>
<div class="t" style="left:342.60px;top:10px;transform:scaleX(0.8759);transform-origin:0 0;">STANDARD</div>
<div class="t" style="left:391.60px;top:10px;">0</div>
<div class="t" style="left:410.20px;top:10px;">90/</div>
<div class="t" style="left:342.60px;top:24px;transform:scaleX(0.8759);transform-origin:0 0;">STANDARD</div>
<div class="t" style="left:391.60px;top:24px;">1</div>
<div class="t" style="left:410.20px;top:24px;">90/</div>
<div class="t" style="left:342.60px;top:38px;transform:scaleX(0.8759);transform-origin:0 0;">STANDARD</div>
<div class="t" style="left:391.60px;top:38px;">2</div>
<div class="t" style="left:410.20px;top:38px;">90/</div>
<div class="t" style="left:342.60px;top:52px;transform:scaleX(0.8759);transform-origin:0 0;">STANDARD</div>
<div class="t" style="left:391.60px;top:52px;">3</div>
<div class="t" style="left:410.20px;top:52px;">90/</div>
<div class="t" style="left:342.60px;top:67px;transform:scaleX(0.8759);transform-origin:0 0;">STANDARD</div>
<div class="t" style="left:391.60px;top:67px;">4</div>
<div class="t" style="left:410.20px;top:67px;">90/</div>
<div class="t" style="left:342.60px;top:81px;transform:scaleX(0.8759);transform-origin:0 0;">STANDARD</div>
<div class="t" style="left:391.60px;top:81px;">5</div>
<div class="t" style="left:410.20px;top:81px;">90/</div>
<div class="a" style="left:462px;top:9px;width:31px;height:12px;background:#fff;"></div>
<div class="a" style="left:462px;top:21px;width:31px;height:1px;background:#9E9E99;"></div>
<div class="a" style="left:496px;top:8px;width:80px;height:11px;background:#EBEAD6;"></div>
<div class="a" style="left:496px;top:19px;width:80px;height:1px;background:#BDBCB3;"></div>
<div class="a" style="left:496px;top:20px;width:80px;height:1px;background:#A5A5A0;"></div>
<svg class="a" style="left:576.9px;top:9px" width="11" height="10" viewBox="0 0 11 10"><rect x="0.3" y="0.3" width="6.2" height="7.4" fill="#fff" stroke="#aeb5c6" stroke-width="0.6"/><path d="M1.6 2.6l1.4-1.2l1.3 1.3l-2.4 2.4h2.8" stroke="#8a8f9c" stroke-width="0.9" fill="none"/><circle cx="7.4" cy="6.8" r="2.7" fill="#fff" stroke="#cfd4e0" stroke-width="0.6"/><path d="M7.4 5.2v1.8h1.5" stroke="#7c8294" stroke-width="0.8" fill="none"/></svg>
<div class="cb" style="left:589.8px;top:8px;height:9.5px;background:#fff"></div>
<div class="a" style="left:462px;top:22px;width:31px;height:12px;background:#fff;"></div>
<div class="a" style="left:462px;top:34px;width:31px;height:1px;background:#9E9E99;"></div>
<div class="a" style="left:496px;top:21px;width:80px;height:12px;background:#EBEAD6;"></div>
<div class="a" style="left:496px;top:33px;width:80px;height:1px;background:#BDBCB3;"></div>
<div class="a" style="left:496px;top:34px;width:80px;height:1px;background:#A5A5A0;"></div>
<svg class="a" style="left:576.9px;top:22px" width="11" height="10" viewBox="0 0 11 10"><rect x="0.3" y="0.3" width="6.2" height="7.4" fill="#fff" stroke="#aeb5c6" stroke-width="0.6"/><path d="M1.6 2.6l1.4-1.2l1.3 1.3l-2.4 2.4h2.8" stroke="#8a8f9c" stroke-width="0.9" fill="none"/><circle cx="7.4" cy="6.8" r="2.7" fill="#fff" stroke="#cfd4e0" stroke-width="0.6"/><path d="M7.4 5.2v1.8h1.5" stroke="#7c8294" stroke-width="0.8" fill="none"/></svg>
<div class="cb" style="left:589.8px;top:21px;height:9.5px;background:#fff"></div>
<div class="a" style="left:462px;top:35px;width:31px;height:12px;background:#fff;"></div>
<div class="a" style="left:462px;top:47px;width:31px;height:1px;background:#9E9E99;"></div>
<div class="a" style="left:496px;top:35px;width:80px;height:11px;background:#EBEAD6;"></div>
<div class="a" style="left:496px;top:46px;width:80px;height:1px;background:#BDBCB3;"></div>
<div class="a" style="left:496px;top:47px;width:80px;height:1px;background:#A5A5A0;"></div>
<svg class="a" style="left:576.9px;top:36px" width="11" height="10" viewBox="0 0 11 10"><rect x="0.3" y="0.3" width="6.2" height="7.4" fill="#fff" stroke="#aeb5c6" stroke-width="0.6"/><path d="M1.6 2.6l1.4-1.2l1.3 1.3l-2.4 2.4h2.8" stroke="#8a8f9c" stroke-width="0.9" fill="none"/><circle cx="7.4" cy="6.8" r="2.7" fill="#fff" stroke="#cfd4e0" stroke-width="0.6"/><path d="M7.4 5.2v1.8h1.5" stroke="#7c8294" stroke-width="0.8" fill="none"/></svg>
<div class="cb" style="left:589.8px;top:35px;height:9.5px;background:#fff"></div>
<div class="a" style="left:462px;top:48px;width:31px;height:12px;background:#fff;"></div>
<div class="a" style="left:462px;top:60px;width:31px;height:1px;background:#9E9E99;"></div>
<div class="a" style="left:496px;top:48px;width:80px;height:12px;background:#EBEAD6;"></div>
<div class="a" style="left:496px;top:60px;width:80px;height:1px;background:#BDBCB3;"></div>
<div class="a" style="left:496px;top:61px;width:80px;height:1px;background:#A5A5A0;"></div>
<svg class="a" style="left:576.9px;top:49px" width="11" height="10" viewBox="0 0 11 10"><rect x="0.3" y="0.3" width="6.2" height="7.4" fill="#fff" stroke="#aeb5c6" stroke-width="0.6"/><path d="M1.6 2.6l1.4-1.2l1.3 1.3l-2.4 2.4h2.8" stroke="#8a8f9c" stroke-width="0.9" fill="none"/><circle cx="7.4" cy="6.8" r="2.7" fill="#fff" stroke="#cfd4e0" stroke-width="0.6"/><path d="M7.4 5.2v1.8h1.5" stroke="#7c8294" stroke-width="0.8" fill="none"/></svg>
<div class="cb" style="left:589.8px;top:48px;height:9.5px;background:#fff"></div>
<div class="a" style="left:462px;top:61px;width:31px;height:12px;background:#fff;"></div>
<div class="a" style="left:462px;top:73px;width:31px;height:1px;background:#9E9E99;"></div>
<div class="a" style="left:496px;top:62px;width:80px;height:12px;background:#EBEAD6;"></div>
<div class="a" style="left:496px;top:74px;width:80px;height:1px;background:#BDBCB3;"></div>
<div class="a" style="left:496px;top:75px;width:80px;height:1px;background:#A5A5A0;"></div>
<svg class="a" style="left:576.9px;top:63px" width="11" height="10" viewBox="0 0 11 10"><rect x="0.3" y="0.3" width="6.2" height="7.4" fill="#fff" stroke="#aeb5c6" stroke-width="0.6"/><path d="M1.6 2.6l1.4-1.2l1.3 1.3l-2.4 2.4h2.8" stroke="#8a8f9c" stroke-width="0.9" fill="none"/><circle cx="7.4" cy="6.8" r="2.7" fill="#fff" stroke="#cfd4e0" stroke-width="0.6"/><path d="M7.4 5.2v1.8h1.5" stroke="#7c8294" stroke-width="0.8" fill="none"/></svg>
<div class="cb" style="left:589.8px;top:62px;height:9.5px;background:#fff"></div>
<div class="a" style="left:462px;top:74px;width:31px;height:11px;background:#fff;"></div>
<div class="a" style="left:496px;top:76px;width:80px;height:11px;background:#EBEAD6;"></div>
<svg class="a" style="left:576.9px;top:77px" width="11" height="10" viewBox="0 0 11 10"><rect x="0.3" y="0.3" width="6.2" height="7.4" fill="#fff" stroke="#aeb5c6" stroke-width="0.6"/><path d="M1.6 2.6l1.4-1.2l1.3 1.3l-2.4 2.4h2.8" stroke="#8a8f9c" stroke-width="0.9" fill="none"/><circle cx="7.4" cy="6.8" r="2.7" fill="#fff" stroke="#cfd4e0" stroke-width="0.6"/><path d="M7.4 5.2v1.8h1.5" stroke="#7c8294" stroke-width="0.8" fill="none"/></svg>
<div class="cb" style="left:589.8px;top:76px;height:9.5px;background:#fff"></div>
<div class="a" style="left:0px;top:95px;width:608px;height:94px;background:#FFFFFF;"></div>
<div class="a" style="left:0px;top:95px;width:4px;height:94px;background:#F8B5D8;"></div>
<div class="a" style="left:52px;top:95px;width:1px;height:94px;background:#9B9B9B;"></div>
<div class="a" style="left:82px;top:95px;width:1px;height:94px;background:#9B9B9B;"></div>
<div class="a" style="left:112px;top:95px;width:1px;height:94px;background:#9B9B9B;"></div>
<div class="a" style="left:153px;top:95px;width:1px;height:94px;background:#9B9B9B;"></div>
<div class="a" style="left:194px;top:95px;width:1px;height:94px;background:#9B9B9B;"></div>
<div class="a" style="left:340px;top:95px;width:1px;height:94px;background:#9B9B9B;"></div>
<div class="a" style="left:389px;top:95px;width:1px;height:94px;background:#9B9B9B;"></div>
<div class="a" style="left:408px;top:95px;width:1px;height:94px;background:#9B9B9B;"></div>
<div class="a" style="left:459px;top:95px;width:1px;height:94px;background:#9B9B9B;"></div>
<div class="a" style="left:493px;top:95px;width:1px;height:94px;background:#9B9B9B;"></div>
<div class="a" style="left:4px;top:188px;width:604px;height:1px;background:#B4B4B4;"></div>
<div class="t" style="left:37.53px;top:132px;transform:scaleX(0.9087);transform-origin:100% 0;">Sat</div>
<div class="t" style="left:12.47px;top:142px;">4/21/2012</div>
<div class="t" style="left:74.97px;top:128px;">6</div>
<div class="t" style="left:74.97px;top:147px;">3</div>
<div class="a" style="left:54px;top:141px;width:26px;height:1px;background:#8a8a8a;"></div>
<div class="t" style="left:93.15px;top:128px;">3.87</div>
<div class="t" style="left:93.15px;top:147px;">1.94</div>
<div class="a" style="left:84px;top:141px;width:26px;height:1px;background:#8a8a8a;"></div>
<div class="t" style="left:124.70px;top:128px;">100.00</div>
<div class="t" style="left:136.51px;top:147px;">100</div>
<div class="a" style="left:114px;top:141px;width:37px;height:1px;background:#8a8a8a;"></div>
<div class="t" style="left:175.15px;top:128px;">3.87</div>
<div class="t" style="left:175.15px;top:147px;">1.94</div>
<div class="a" style="left:155px;top:141px;width:37px;height:1px;background:#8a8a8a;"></div>
<div class="t" style="left:217.06px;top:118px;transform:scaleX(0.8984);transform-origin:100% 0;">Rooms</div>
<div class="t" style="left:250.40px;top:116px;">0</div>
<div class="t" style="left:211.41px;top:130px;transform:scaleX(0.9572);transform-origin:100% 0;">Override</div>
<div class="a" style="left:251px;top:128px;width:31px;height:13px;background:#fff;box-sizing:border-box;border:1px solid #c6c6c6;border-top-color:#a8a8a8;"></div>
<div class="t" style="left:207.61px;top:144px;transform:scaleX(0.9508);transform-origin:100% 0;">Approved</div>
<div class="cb" style="left:251px;top:142px;height:9.5px;background:#fff"></div>
<div class="t" style="left:200.06px;top:156px;transform:scaleX(0.9582);transform-origin:100% 0;color:#8d8d8d;">Expiry Date</div>
<div class="a" style="left:251px;top:156px;width:80px;height:12.5px;background:#EBEAD6;box-sizing:border-box;border:1px solid #c6c6c6;border-top-color:#a8a8a8;"></div>
<div class="a" style="left:332.5px;top:156px;width:8.5px;height:12px;overflow:hidden">
<svg class="a" style="left:0px;top:0px" width="12" height="11" viewBox="0 0 12 11"><rect x="0.5" y="1.5" width="6" height="7.2" fill="#fff" stroke="#979797" stroke-width="0.9"/><path d="M2 0.2v2M5 0.2v2" stroke="#8e8e8e" stroke-width="1"/><path d="M2 4.2l1.2-1l1.2 1.1l-2.2 2.3h2.6" stroke="#a9a9a9" stroke-width="0.8" fill="none"/><circle cx="7.9" cy="7.5" r="2.9" fill="#fff" stroke="#8f8f8f" stroke-width="0.9"/><path d="M7.9 5.9v1.8h1.5" stroke="#9a9a9a" stroke-width="0.8" fill="none"/></svg>
</div>
<div class="t" style="left:342.60px;top:104px;transform:scaleX(0.8759);transform-origin:0 0;">STANDARD</div>
<div class="t" style="left:391.60px;top:104px;">0</div>
<div class="t" style="left:410.20px;top:104px;">90/</div>
<div class="t" style="left:342.60px;top:118px;transform:scaleX(0.8759);transform-origin:0 0;">STANDARD</div>
<div class="t" style="left:391.60px;top:118px;">1</div>
<div class="t" style="left:410.20px;top:118px;">90/</div>
<div class="t" style="left:342.60px;top:132px;transform:scaleX(0.8759);transform-origin:0 0;">STANDARD</div>
<div class="t" style="left:391.60px;top:132px;">2</div>
<div class="t" style="left:410.20px;top:132px;">90/</div>
<div class="t" style="left:342.60px;top:147px;transform:scaleX(0.8759);transform-origin:0 0;">STANDARD</div>
<div class="t" style="left:391.60px;top:147px;">3</div>
<div class="t" style="left:410.20px;top:147px;">90/</div>
<div class="t" style="left:342.60px;top:161px;transform:scaleX(0.8759);transform-origin:0 0;">STANDARD</div>
<div class="t" style="left:391.60px;top:161px;">4</div>
<div class="t" style="left:410.20px;top:161px;">90/</div>
<div class="t" style="left:342.60px;top:175px;transform:scaleX(0.8759);transform-origin:0 0;">STANDARD</div>
<div class="t" style="left:391.60px;top:175px;">5</div>
<div class="t" style="left:410.20px;top:175px;">90/</div>
<div class="a" style="left:461px;top:104px;width:32px;height:11px;background:#fff;box-sizing:border-box;border-left:1px solid #d2d2d2;border-top:1px solid #c4c4c4;"></div>
<div class="a" style="left:461px;top:115px;width:32px;height:1px;background:#969696;"></div>
<div class="a" style="left:495px;top:102px;width:81px;height:13px;background:#EBEAD6;box-sizing:border-box;border:1px solid #BCBCB2;"></div>
<svg class="a" style="left:576.9px;top:102px" width="12" height="11" viewBox="0 0 12 11"><rect x="0.5" y="1.5" width="6" height="7.2" fill="#fff" stroke="#979797" stroke-width="0.9"/><path d="M2 0.2v2M5 0.2v2" stroke="#8e8e8e" stroke-width="1"/><path d="M2 4.2l1.2-1l1.2 1.1l-2.2 2.3h2.6" stroke="#a9a9a9" stroke-width="0.8" fill="none"/><circle cx="7.9" cy="7.5" r="2.9" fill="#fff" stroke="#8f8f8f" stroke-width="0.9"/><path d="M7.9 5.9v1.8h1.5" stroke="#9a9a9a" stroke-width="0.8" fill="none"/></svg>
<div class="cb" style="left:589.8px;top:102px;height:9.5px;background:#fff"></div>
<div class="a" style="left:461px;top:116px;width:32px;height:12px;background:#fff;box-sizing:border-box;border-left:1px solid #d2d2d2;"></div>
<div class="a" style="left:461px;top:128px;width:32px;height:1px;background:#969696;"></div>
<div class="a" style="left:495px;top:116px;width:81px;height:12px;background:#EBEAD6;box-sizing:border-box;border:1px solid #BCBCB2;"></div>
<svg class="a" style="left:576.9px;top:116px" width="12" height="11" viewBox="0 0 12 11"><rect x="0.5" y="1.5" width="6" height="7.2" fill="#fff" stroke="#979797" stroke-width="0.9"/><path d="M2 0.2v2M5 0.2v2" stroke="#8e8e8e" stroke-width="1"/><path d="M2 4.2l1.2-1l1.2 1.1l-2.2 2.3h2.6" stroke="#a9a9a9" stroke-width="0.8" fill="none"/><circle cx="7.9" cy="7.5" r="2.9" fill="#fff" stroke="#8f8f8f" stroke-width="0.9"/><path d="M7.9 5.9v1.8h1.5" stroke="#9a9a9a" stroke-width="0.8" fill="none"/></svg>
<div class="cb" style="left:589.8px;top:116px;height:9.5px;background:#fff"></div>
<div class="a" style="left:461px;top:129px;width:32px;height:12px;background:#fff;box-sizing:border-box;border-left:1px solid #d2d2d2;"></div>
<div class="a" style="left:461px;top:141px;width:32px;height:1px;background:#969696;"></div>
<div class="a" style="left:495px;top:129px;width:81px;height:13px;background:#EBEAD6;box-sizing:border-box;border:1px solid #BCBCB2;"></div>
<svg class="a" style="left:576.9px;top:129px" width="12" height="11" viewBox="0 0 12 11"><rect x="0.5" y="1.5" width="6" height="7.2" fill="#fff" stroke="#979797" stroke-width="0.9"/><path d="M2 0.2v2M5 0.2v2" stroke="#8e8e8e" stroke-width="1"/><path d="M2 4.2l1.2-1l1.2 1.1l-2.2 2.3h2.6" stroke="#a9a9a9" stroke-width="0.8" fill="none"/><circle cx="7.9" cy="7.5" r="2.9" fill="#fff" stroke="#8f8f8f" stroke-width="0.9"/><path d="M7.9 5.9v1.8h1.5" stroke="#9a9a9a" stroke-width="0.8" fill="none"/></svg>
<div class="cb" style="left:589.8px;top:129px;height:9.5px;background:#fff"></div>
<div class="a" style="left:461px;top:142px;width:32px;height:12px;background:#fff;box-sizing:border-box;border-left:1px solid #d2d2d2;"></div>
<div class="a" style="left:461px;top:154px;width:32px;height:1px;background:#969696;"></div>
<div class="a" style="left:495px;top:143px;width:81px;height:12px;background:#EBEAD6;box-sizing:border-box;border:1px solid #BCBCB2;"></div>
<svg class="a" style="left:576.9px;top:143px" width="12" height="11" viewBox="0 0 12 11"><rect x="0.5" y="1.5" width="6" height="7.2" fill="#fff" stroke="#979797" stroke-width="0.9"/><path d="M2 0.2v2M5 0.2v2" stroke="#8e8e8e" stroke-width="1"/><path d="M2 4.2l1.2-1l1.2 1.1l-2.2 2.3h2.6" stroke="#a9a9a9" stroke-width="0.8" fill="none"/><circle cx="7.9" cy="7.5" r="2.9" fill="#fff" stroke="#8f8f8f" stroke-width="0.9"/><path d="M7.9 5.9v1.8h1.5" stroke="#9a9a9a" stroke-width="0.8" fill="none"/></svg>
<div class="cb" style="left:589.8px;top:143px;height:9.5px;background:#fff"></div>
<div class="a" style="left:461px;top:155px;width:32px;height:12px;background:#fff;box-sizing:border-box;border-left:1px solid #d2d2d2;"></div>
<div class="a" style="left:461px;top:167px;width:32px;height:1px;background:#969696;"></div>
<div class="a" style="left:495px;top:156px;width:81px;height:13px;background:#EBEAD6;box-sizing:border-box;border:1px solid #BCBCB2;"></div>
<svg class="a" style="left:576.9px;top:156px" width="12" height="11" viewBox="0 0 12 11"><rect x="0.5" y="1.5" width="6" height="7.2" fill="#fff" stroke="#979797" stroke-width="0.9"/><path d="M2 0.2v2M5 0.2v2" stroke="#8e8e8e" stroke-width="1"/><path d="M2 4.2l1.2-1l1.2 1.1l-2.2 2.3h2.6" stroke="#a9a9a9" stroke-width="0.8" fill="none"/><circle cx="7.9" cy="7.5" r="2.9" fill="#fff" stroke="#8f8f8f" stroke-width="0.9"/><path d="M7.9 5.9v1.8h1.5" stroke="#9a9a9a" stroke-width="0.8" fill="none"/></svg>
<div class="cb" style="left:589.8px;top:156px;height:9.5px;background:#fff"></div>
<div class="a" style="left:461px;top:168px;width:32px;height:11px;background:#fff;box-sizing:border-box;border-left:1px solid #d2d2d2;border-bottom:1px solid #cfcfcf;"></div>
<div class="a" style="left:495px;top:170px;width:81px;height:12px;background:#EBEAD6;box-sizing:border-box;border:1px solid #BCBCB2;"></div>
<svg class="a" style="left:576.9px;top:170px" width="12" height="11" viewBox="0 0 12 11"><rect x="0.5" y="1.5" width="6" height="7.2" fill="#fff" stroke="#979797" stroke-width="0.9"/><path d="M2 0.2v2M5 0.2v2" stroke="#8e8e8e" stroke-width="1"/><path d="M2 4.2l1.2-1l1.2 1.1l-2.2 2.3h2.6" stroke="#a9a9a9" stroke-width="0.8" fill="none"/><circle cx="7.9" cy="7.5" r="2.9" fill="#fff" stroke="#8f8f8f" stroke-width="0.9"/><path d="M7.9 5.9v1.8h1.5" stroke="#9a9a9a" stroke-width="0.8" fill="none"/></svg>
<div class="cb" style="left:589.8px;top:170px;height:9.5px;background:#fff"></div>
<div class="a" style="left:0px;top:189px;width:608px;height:10px;background:#FFFFFF;"></div>
<div class="a" style="left:0px;top:189px;width:4px;height:10px;background:#F8B5D8;"></div>
<div class="a" style="left:52px;top:189px;width:1px;height:10px;background:#9B9B9B;"></div>
<div class="a" style="left:82px;top:189px;width:1px;height:10px;background:#9B9B9B;"></div>
<div class="a" style="left:112px;top:189px;width:1px;height:10px;background:#9B9B9B;"></div>
<div class="a" style="left:153px;top:189px;width:1px;height:10px;background:#9B9B9B;"></div>
<div class="a" style="left:194px;top:189px;width:1px;height:10px;background:#9B9B9B;"></div>
<div class="a" style="left:340px;top:189px;width:1px;height:10px;background:#9B9B9B;"></div>
<div class="a" style="left:389px;top:189px;width:1px;height:10px;background:#9B9B9B;"></div>
<div class="a" style="left:408px;top:189px;width:1px;height:10px;background:#9B9B9B;"></div>
<div class="a" style="left:459px;top:189px;width:1px;height:10px;background:#9B9B9B;"></div>
<div class="a" style="left:493px;top:189px;width:1px;height:10px;background:#9B9B9B;"></div>
</div>
<div class="a" style="left:637px;top:85px;width:1px;height:276px;background:#6E30C8;"></div>
<div class="a" style="left:1242px;top:85px;width:12px;height:83px;background:#fff;"></div>
<div class="a sbtrack" style="left:1242px;top:168px;width:12px;height:193px;"></div>
<div class="a sbbtn" style="left:1242px;top:169px;height:10px"><svg width="6" height="3" viewBox="0 0 6 3" style="position:absolute;left:2px;top:3px"><path d="M0 3L3 0L6 3z" fill="#000"/></svg></div>
<div class="a sbbtn" style="left:1242px;top:348px;height:12px"><svg width="6" height="3" viewBox="0 0 6 3" style="position:absolute;left:2px;top:4px"><path d="M0 0L3 3L6 0z" fill="#000"/></svg></div>
<div class="a sbbtn" style="left:1242px;top:180px;height:49px"></div>
<div class="a" style="left:633px;top:66px;width:622px;height:296px;box-sizing:border-box;border:1px solid #5c5c5c;border-left-color:#7a7a7a;border-right-color:#9a9a9a;"></div>
<div class="a" style="left:633px;top:168px;width:1px;height:193px;background:#B59AA6;"></div>
<div class="a" style="left:6px;top:366px;width:622px;height:296px;background:#fff;"></div>
<div class="t b" style="left:17.70px;top:370px;transform:scaleX(0.9029);transform-origin:0 0;font-size:9px;color:#787878;">JENNY</div>
<svg class="a" style="left:46.8px;top:377.6px" width="5" height="3" viewBox="0 0 5 3"><path d="M0 0h5L2.5 2.8z" fill="#8c8c8c"/></svg>
<div class="t b" style="left:64.10px;top:370px;font-size:9.2px;color:#173E78;">View</div>
<svg class="a" style="left:86.7px;top:375px" width="6" height="3" viewBox="0 0 6 3"><path d="M0 0h6L3 3z" fill="#000"/></svg>
<div class="a" style="left:101px;top:368px;width:1px;height:16px;background:#c9c9c9;"></div>
<div class="a" style="left:137px;top:368px;width:1px;height:16px;background:#c9c9c9;"></div>
<div class="a" style="left:190px;top:368px;width:1px;height:16px;background:#c9c9c9;"></div>
<div class="a btn" style="left:107px;top:368px;width:25px;height:13px"></div>
<div class="t" style="left:110.20px;top:370px;transform:scaleX(0.9342);transform-origin:0 0;">Save</div>
<svg class="a" style="left:143px;top:370px" width="12" height="11" viewBox="0 0 12 11"><rect x="0.5" y="0.5" width="10" height="10" fill="#fff" stroke="#333" stroke-dasharray="1.6 1"/><rect x="1.5" y="4.5" width="7" height="6" fill="#b9d0f8" stroke="#2a4fa8"/><path d="M2 7.2h6M4 5v5.5M6.5 5v5.5" stroke="#3e6ad0" stroke-width="0.9"/><path d="M5.5 5.5L10 1M7.2 0.8h3v3" stroke="#222" stroke-width="1.2" fill="none"/></svg>
<div class="t" style="left:157.20px;top:370px;transform:scaleX(0.9466);transform-origin:0 0;">Detach</div>
<div class="t" style="left:195.60px;top:368px;transform:scaleX(0.9499);transform-origin:0 0;color:#1c3f94;">Alerts &amp; Events</div>
<div class="a" style="left:7px;top:384px;width:620px;height:1px;background:#4e4e4e;"></div>
<div class="a" style="left:7px;top:384px;width:608px;height:1px;background:#5A6E88;"></div>
<div class="a" style="left:7px;top:384px;width:608px;height:84px;background:#6484AB;"></div>
<div class="a" style="left:7px;top:384px;width:608px;height:1px;background:#67798F;"></div>
<div class="a" style="left:7px;top:385px;width:608px;height:1px;background:#69809E;"></div>
<div class="a" style="left:7px;top:464px;width:608px;height:3px;background:#6387A8;"></div>
<div class="a" style="left:7px;top:467px;width:608px;height:1px;background:#66819E;"></div>
<div class="a" style="left:7px;top:384px;width:3px;height:84px;background:#6080A6;"></div>
<div class="a" style="left:59px;top:385px;width:1px;height:83px;background:#7C95B5;"></div>
<div class="a" style="left:89px;top:385px;width:1px;height:83px;background:#7C95B5;"></div>
<div class="a" style="left:119px;top:385px;width:1px;height:83px;background:#7C95B5;"></div>
<div class="a" style="left:160px;top:385px;width:1px;height:83px;background:#7C95B5;"></div>
<div class="a" style="left:201px;top:385px;width:1px;height:83px;background:#7C95B5;"></div>
<div class="a" style="left:347px;top:385px;width:1px;height:83px;background:#7C95B5;"></div>
<div class="a" style="left:396px;top:426px;width:1px;height:42px;background:#7C95B5;"></div>
<div class="a" style="left:415px;top:426px;width:1px;height:42px;background:#7C95B5;"></div>
<div class="a" style="left:466px;top:426px;width:1px;height:42px;background:#7C95B5;"></div>
<div class="a" style="left:500px;top:426px;width:1px;height:42px;background:#7C95B5;"></div>
<div class="a" style="left:60px;top:425px;width:141px;height:1px;background:#7C95B5;"></div>
<div class="a" style="left:348px;top:425px;width:267px;height:1px;background:#7C95B5;"></div>
<div class="t b" style="left:38.86px;top:420.6px;transform:scaleX(1.0956);transform-origin:100% 0;color:#fff;">Date</div>
<div class="t b" style="left:65.70px;top:396px;transform:scaleX(0.8576);transform-origin:0 0;color:#fff;">OCC</div>
<div class="a" style="left:61.50px;top:406px;width:27.5px;height:11px;overflow:hidden"><div class="t b" style="left:0;top:0;transform:scaleX(1.0215);transform-origin:0 0;color:#fff;">(Room</div></div>
<div class="t b" style="left:96.40px;top:396px;transform:scaleX(0.9143);transform-origin:0 0;color:#fff;">Occ</div>
<div class="t b" style="left:96.40px;top:406px;transform:scaleX(1.2014);transform-origin:0 0;color:#fff;">(%)</div>
<div class="t b" style="left:130.80px;top:401.3px;transform:scaleX(0.9717);transform-origin:0 0;color:#fff;">ADR</div>
<div class="t b" style="left:164.00px;top:401.3px;transform:scaleX(1.0327);transform-origin:0 0;color:#fff;">RevPAR</div>
<div class="t b" style="left:68.85px;top:438px;transform:scaleX(0.9023);transform-origin:100% 0;color:#fff;">OTB</div>
<div class="t b" style="left:68.38px;top:448px;color:#fff;">Fore</div>
<div class="t b" style="left:98.85px;top:438px;transform:scaleX(0.9023);transform-origin:100% 0;color:#fff;">OTB</div>
<div class="t b" style="left:98.38px;top:448px;color:#fff;">Fore</div>
<div class="t b" style="left:139.85px;top:438px;transform:scaleX(0.9023);transform-origin:100% 0;color:#fff;">OTB</div>
<div class="t b" style="left:139.38px;top:448px;color:#fff;">Fore</div>
<div class="t b" style="left:180.85px;top:438px;transform:scaleX(0.9023);transform-origin:100% 0;color:#fff;">OTB</div>
<div class="t b" style="left:180.38px;top:448px;color:#fff;">Fore</div>
<div class="t b" style="left:229.80px;top:421.8px;transform:scaleX(1.0377);transform-origin:0 0;color:#fff;">Overbooking (House)</div>
<div class="t b" style="left:349.90px;top:401.3px;transform:scaleX(1.0215);transform-origin:0 0;color:#fff;">Hurdle</div>
<div class="t b" style="left:349.90px;top:442.3px;transform:scaleX(0.8635);transform-origin:0 0;color:#fff;">YC</div>
<div class="t b" style="left:398.50px;top:442.3px;transform:scaleX(0.8865);transform-origin:0 0;color:#fff;">LOS</div>
<div class="t b" style="left:417.30px;top:442.3px;transform:scaleX(1.0263);transform-origin:0 0;color:#fff;">ORMS/PMS</div>
<div class="a" style="left:468.40px;top:442.3px;width:31.2px;height:11px;overflow:hidden"><div class="t b" style="left:0;top:0;transform:scaleX(1.0248);transform-origin:0 0;color:#fff;">Overrid</div></div>
<div class="t b" style="left:502.40px;top:442.3px;transform:scaleX(1.0562);transform-origin:0 0;color:#fff;">Expiry Date/Approved</div>
<div class="a" style="left:7px;top:468px;width:608px;height:193px;overflow:hidden;">
<div class="a" style="left:0px;top:0px;width:608px;height:238px;background:#9FAFD0;"></div>
<div class="a" style="left:52px;top:0px;width:1px;height:238px;background:#8C96AA;"></div>
<div class="a" style="left:82px;top:0px;width:1px;height:238px;background:#8C96AA;"></div>
<div class="a" style="left:112px;top:0px;width:1px;height:238px;background:#8C96AA;"></div>
<div class="a" style="left:153px;top:0px;width:1px;height:238px;background:#8C96AA;"></div>
<div class="a" style="left:194px;top:0px;width:1px;height:238px;background:#8C96AA;"></div>
<div class="a" style="left:340px;top:0px;width:1px;height:238px;background:#8C96AA;"></div>
<div class="a" style="left:389px;top:0px;width:1px;height:238px;background:#8C96AA;"></div>
<div class="a" style="left:408px;top:0px;width:1px;height:238px;background:#8C96AA;"></div>
<div class="a" style="left:459px;top:0px;width:1px;height:238px;background:#8C96AA;"></div>
<div class="a" style="left:493px;top:0px;width:1px;height:238px;background:#8C96AA;"></div>
<div class="t" style="left:40.38px;top:109px;transform:scaleX(0.9272);transform-origin:100% 0;">Fri</div>
<div class="t" style="left:12.47px;top:119px;">4/20/2012</div>
<div class="t" style="left:74.97px;top:104px;">2</div>
<div class="t" style="left:74.97px;top:124px;">2</div>
<div class="a" style="left:54px;top:119px;width:26px;height:1px;background:#E4E9F3;"></div>
<div class="t" style="left:93.15px;top:104px;">1.29</div>
<div class="t" style="left:93.15px;top:124px;">1.29</div>
<div class="a" style="left:84px;top:119px;width:26px;height:1px;background:#E4E9F3;"></div>
<div class="t" style="left:129.42px;top:104px;">95.00</div>
<div class="t" style="left:141.23px;top:124px;">95</div>
<div class="a" style="left:114px;top:119px;width:37px;height:1px;background:#E4E9F3;"></div>
<div class="t" style="left:175.15px;top:104px;">1.23</div>
<div class="t" style="left:175.15px;top:124px;">1.23</div>
<div class="a" style="left:155px;top:119px;width:37px;height:1px;background:#E4E9F3;"></div>
<div class="t" style="left:217.06px;top:94px;transform:scaleX(0.8984);transform-origin:100% 0;">Rooms</div>
<div class="t" style="left:250.40px;top:93px;">0</div>
<div class="t" style="left:211.41px;top:107px;transform:scaleX(0.9572);transform-origin:100% 0;">Override</div>
<div class="a" style="left:251px;top:106px;width:31px;height:11.5px;background:#fff;"></div>
<div class="t" style="left:207.61px;top:121px;transform:scaleX(0.9508);transform-origin:100% 0;">Approved</div>
<div class="cb" style="left:251px;top:119px;height:9.5px;background:#fff"></div>
<div class="t" style="left:200.06px;top:133px;transform:scaleX(0.9582);transform-origin:100% 0;color:#8b8f9a;">Expiry Date</div>
<div class="a" style="left:251px;top:133px;width:80px;height:11.5px;background:#EBEAD6;"></div>
<div class="a" style="left:332.5px;top:133px;width:8.5px;height:12px;overflow:hidden">
<svg class="a" style="left:0px;top:0px" width="11" height="10" viewBox="0 0 11 10"><rect x="0.3" y="0.3" width="6.2" height="7.4" fill="#fff" stroke="#aeb5c6" stroke-width="0.6"/><path d="M1.6 2.6l1.4-1.2l1.3 1.3l-2.4 2.4h2.8" stroke="#8a8f9c" stroke-width="0.9" fill="none"/><circle cx="7.4" cy="6.8" r="2.7" fill="#fff" stroke="#cfd4e0" stroke-width="0.6"/><path d="M7.4 5.2v1.8h1.5" stroke="#7c8294" stroke-width="0.8" fill="none"/></svg>
</div>
<div class="t" style="left:342.60px;top:10px;transform:scaleX(0.8759);transform-origin:0 0;">STANDARD</div>
<div class="t" style="left:391.60px;top:10px;">0</div>
<div class="t" style="left:410.20px;top:10px;">75/75</div>
<div class="t" style="left:342.60px;top:24px;transform:scaleX(0.8759);transform-origin:0 0;">STANDARD</div>
<div class="t" style="left:391.60px;top:24px;">1</div>
<div class="t" style="left:410.20px;top:24px;">75/75</div>
<div class="t" style="left:342.60px;top:38px;transform:scaleX(0.8759);transform-origin:0 0;">STANDARD</div>
<div class="t" style="left:391.60px;top:38px;">2</div>
<div class="t" style="left:410.20px;top:38px;">75/75</div>
<div class="t" style="left:342.60px;top:52px;transform:scaleX(0.8759);transform-origin:0 0;">STANDARD</div>
<div class="t" style="left:391.60px;top:52px;">3</div>
<div class="t" style="left:410.20px;top:52px;">75/75</div>
<div class="t" style="left:342.60px;top:67px;transform:scaleX(0.8759);transform-origin:0 0;">STANDARD</div>
<div class="t" style="left:391.60px;top:67px;">4</div>
<div class="t" style="left:410.20px;top:67px;">75/75</div>
<div class="t" style="left:342.60px;top:81px;transform:scaleX(0.8759);transform-origin:0 0;">STANDARD</div>
<div class="t" style="left:391.60px;top:81px;">5</div>
<div class="t" style="left:410.20px;top:81px;">75/75</div>
<div class="t" style="left:342.60px;top:95px;transform:scaleX(0.8759);transform-origin:0 0;">STANDARD</div>
<div class="t" style="left:391.60px;top:95px;">6</div>
<div class="t" style="left:410.20px;top:95px;">75/75</div>
<div class="t" style="left:342.60px;top:109px;transform:scaleX(0.8759);transform-origin:0 0;">STANDARD</div>
<div class="t" style="left:391.60px;top:109px;">7</div>
<div class="t" style="left:410.20px;top:109px;">75/75</div>
<div class="t" style="left:342.60px;top:124px;transform:scaleX(0.8580);transform-origin:0 0;">SUPERIOR</div>
<div class="t" style="left:391.60px;top:124px;">0</div>
<div class="t" style="left:410.20px;top:124px;">80/80</div>
<div class="t" style="left:342.60px;top:138px;transform:scaleX(0.8580);transform-origin:0 0;">SUPERIOR</div>
<div class="t" style="left:391.60px;top:138px;">1</div>
<div class="t" style="left:410.20px;top:138px;">80/80</div>
<div class="t" style="left:342.60px;top:152px;transform:scaleX(0.8580);transform-origin:0 0;">SUPERIOR</div>
<div class="t" style="left:391.60px;top:152px;">2</div>
<div class="t" style="left:410.20px;top:152px;">80/80</div>
<div class="t" style="left:342.60px;top:166px;transform:scaleX(0.8580);transform-origin:0 0;">SUPERIOR</div>
<div class="t" style="left:391.60px;top:166px;">3</div>
<div class="t" style="left:410.20px;top:166px;">80/80</div>
<div class="t" style="left:342.60px;top:180px;transform:scaleX(0.8580);transform-origin:0 0;">SUPERIOR</div>
<div class="t" style="left:391.60px;top:180px;">4</div>
<div class="t" style="left:410.20px;top:180px;">80/80</div>
<div class="t" style="left:342.60px;top:195px;transform:scaleX(0.8580);transform-origin:0 0;">SUPERIOR</div>
<div class="t" style="left:391.60px;top:195px;">5</div>
<div class="t" style="left:410.20px;top:195px;">80/80</div>
<div class="t" style="left:342.60px;top:209px;transform:scaleX(0.8580);transform-origin:0 0;">SUPERIOR</div>
<div class="t" style="left:391.60px;top:209px;">6</div>
<div class="t" style="left:410.20px;top:209px;">80/80</div>
<div class="t" style="left:342.60px;top:223px;transform:scaleX(0.8580);transform-origin:0 0;">SUPERIOR</div>
<div class="t" style="left:391.60px;top:223px;">7</div>
<div class="t" style="left:410.20px;top:223px;">80/80</div>
<div class="a" style="left:462px;top:17px;width:31px;height:12px;background:#fff;"></div>
<div class="a" style="left:462px;top:29px;width:31px;height:1px;background:#9E9E99;"></div>
<div class="a" style="left:496px;top:12px;width:80px;height:11px;background:#EBEAD6;"></div>
<div class="a" style="left:496px;top:23px;width:80px;height:1px;background:#BDBCB3;"></div>
<div class="a" style="left:496px;top:24px;width:80px;height:1px;background:#A5A5A0;"></div>
<svg class="a" style="left:576.9px;top:13px" width="11" height="10" viewBox="0 0 11 10"><rect x="0.3" y="0.3" width="6.2" height="7.4" fill="#fff" stroke="#aeb5c6" stroke-width="0.6"/><path d="M1.6 2.6l1.4-1.2l1.3 1.3l-2.4 2.4h2.8" stroke="#8a8f9c" stroke-width="0.9" fill="none"/><circle cx="7.4" cy="6.8" r="2.7" fill="#fff" stroke="#cfd4e0" stroke-width="0.6"/><path d="M7.4 5.2v1.8h1.5" stroke="#7c8294" stroke-width="0.8" fill="none"/></svg>
<div class="cb" style="left:589.8px;top:12px;height:9.5px;background:#DDD9CF"><svg width="8" height="8" viewBox="0 0 8 8" style="position:absolute;left:0.5px;top:0px"><path d="M1.2 3.6l1.9 2.2l3.7-4.4" stroke="#5d514b" stroke-width="1.5" fill="none"/></svg></div>
<div class="a" style="left:462px;top:30px;width:31px;height:12px;background:#fff;"></div>
<div class="a" style="left:462px;top:42px;width:31px;height:1px;background:#9E9E99;"></div>
<div class="a" style="left:496px;top:25px;width:80px;height:12px;background:#EBEAD6;"></div>
<div class="a" style="left:496px;top:37px;width:80px;height:1px;background:#BDBCB3;"></div>
<div class="a" style="left:496px;top:38px;width:80px;height:1px;background:#A5A5A0;"></div>
<svg class="a" style="left:576.9px;top:26px" width="11" height="10" viewBox="0 0 11 10"><rect x="0.3" y="0.3" width="6.2" height="7.4" fill="#fff" stroke="#aeb5c6" stroke-width="0.6"/><path d="M1.6 2.6l1.4-1.2l1.3 1.3l-2.4 2.4h2.8" stroke="#8a8f9c" stroke-width="0.9" fill="none"/><circle cx="7.4" cy="6.8" r="2.7" fill="#fff" stroke="#cfd4e0" stroke-width="0.6"/><path d="M7.4 5.2v1.8h1.5" stroke="#7c8294" stroke-width="0.8" fill="none"/></svg>
<div class="cb" style="left:589.8px;top:25px;height:9.5px;background:#DDD9CF"><svg width="8" height="8" viewBox="0 0 8 8" style="position:absolute;left:0.5px;top:0px"><path d="M1.2 3.6l1.9 2.2l3.7-4.4" stroke="#5d514b" stroke-width="1.5" fill="none"/></svg></div>
<div class="a" style="left:462px;top:43px;width:31px;height:12px;background:#fff;"></div>
<div class="a" style="left:462px;top:55px;width:31px;height:1px;background:#9E9E99;"></div>
<div class="a" style="left:496px;top:39px;width:80px;height:11px;background:#EBEAD6;"></div>
<div class="a" style="left:496px;top:50px;width:80px;height:1px;background:#BDBCB3;"></div>
<div class="a" style="left:496px;top:51px;width:80px;height:1px;background:#A5A5A0;"></div>
<svg class="a" style="left:576.9px;top:40px" width="11" height="10" viewBox="0 0 11 10"><rect x="0.3" y="0.3" width="6.2" height="7.4" fill="#fff" stroke="#aeb5c6" stroke-width="0.6"/><path d="M1.6 2.6l1.4-1.2l1.3 1.3l-2.4 2.4h2.8" stroke="#8a8f9c" stroke-width="0.9" fill="none"/><circle cx="7.4" cy="6.8" r="2.7" fill="#fff" stroke="#cfd4e0" stroke-width="0.6"/><path d="M7.4 5.2v1.8h1.5" stroke="#7c8294" stroke-width="0.8" fill="none"/></svg>
<div class="cb" style="left:589.8px;top:39px;height:9.5px;background:#DDD9CF"><svg width="8" height="8" viewBox="0 0 8 8" style="position:absolute;left:0.5px;top:0px"><path d="M1.2 3.6l1.9 2.2l3.7-4.4" stroke="#5d514b" stroke-width="1.5" fill="none"/></svg></div>
<div class="a" style="left:462px;top:56px;width:31px;height:11px;background:#fff;"></div>
<div class="a" style="left:462px;top:67px;width:31px;height:1px;background:#9E9E99;"></div>
<div class="a" style="left:496px;top:52px;width:80px;height:12px;background:#EBEAD6;"></div>
<div class="a" style="left:496px;top:64px;width:80px;height:1px;background:#BDBCB3;"></div>
<div class="a" style="left:496px;top:65px;width:80px;height:1px;background:#A5A5A0;"></div>
<svg class="a" style="left:576.9px;top:53px" width="11" height="10" viewBox="0 0 11 10"><rect x="0.3" y="0.3" width="6.2" height="7.4" fill="#fff" stroke="#aeb5c6" stroke-width="0.6"/><path d="M1.6 2.6l1.4-1.2l1.3 1.3l-2.4 2.4h2.8" stroke="#8a8f9c" stroke-width="0.9" fill="none"/><circle cx="7.4" cy="6.8" r="2.7" fill="#fff" stroke="#cfd4e0" stroke-width="0.6"/><path d="M7.4 5.2v1.8h1.5" stroke="#7c8294" stroke-width="0.8" fill="none"/></svg>
<div class="cb" style="left:589.8px;top:52px;height:9.5px;background:#DDD9CF"><svg width="8" height="8" viewBox="0 0 8 8" style="position:absolute;left:0.5px;top:0px"><path d="M1.2 3.6l1.9 2.2l3.7-4.4" stroke="#5d514b" stroke-width="1.5" fill="none"/></svg></div>
<div class="a" style="left:462px;top:68px;width:31px;height:12px;background:#fff;"></div>
<div class="a" style="left:462px;top:80px;width:31px;height:1px;background:#9E9E99;"></div>
<div class="a" style="left:496px;top:66px;width:80px;height:12px;background:#EBEAD6;"></div>
<div class="a" style="left:496px;top:78px;width:80px;height:1px;background:#BDBCB3;"></div>
<div class="a" style="left:496px;top:79px;width:80px;height:1px;background:#A5A5A0;"></div>
<svg class="a" style="left:576.9px;top:67px" width="11" height="10" viewBox="0 0 11 10"><rect x="0.3" y="0.3" width="6.2" height="7.4" fill="#fff" stroke="#aeb5c6" stroke-width="0.6"/><path d="M1.6 2.6l1.4-1.2l1.3 1.3l-2.4 2.4h2.8" stroke="#8a8f9c" stroke-width="0.9" fill="none"/><circle cx="7.4" cy="6.8" r="2.7" fill="#fff" stroke="#cfd4e0" stroke-width="0.6"/><path d="M7.4 5.2v1.8h1.5" stroke="#7c8294" stroke-width="0.8" fill="none"/></svg>
<div class="cb" style="left:589.8px;top:66px;height:9.5px;background:#DDD9CF"><svg width="8" height="8" viewBox="0 0 8 8" style="position:absolute;left:0.5px;top:0px"><path d="M1.2 3.6l1.9 2.2l3.7-4.4" stroke="#5d514b" stroke-width="1.5" fill="none"/></svg></div>
<div class="a" style="left:462px;top:81px;width:31px;height:12px;background:#fff;"></div>
<div class="a" style="left:462px;top:93px;width:31px;height:1px;background:#9E9E99;"></div>
<div class="a" style="left:496px;top:80px;width:80px;height:11px;background:#EBEAD6;"></div>
<div class="a" style="left:496px;top:91px;width:80px;height:1px;background:#BDBCB3;"></div>
<div class="a" style="left:496px;top:92px;width:80px;height:1px;background:#A5A5A0;"></div>
<svg class="a" style="left:576.9px;top:81px" width="11" height="10" viewBox="0 0 11 10"><rect x="0.3" y="0.3" width="6.2" height="7.4" fill="#fff" stroke="#aeb5c6" stroke-width="0.6"/><path d="M1.6 2.6l1.4-1.2l1.3 1.3l-2.4 2.4h2.8" stroke="#8a8f9c" stroke-width="0.9" fill="none"/><circle cx="7.4" cy="6.8" r="2.7" fill="#fff" stroke="#cfd4e0" stroke-width="0.6"/><path d="M7.4 5.2v1.8h1.5" stroke="#7c8294" stroke-width="0.8" fill="none"/></svg>
<div class="cb" style="left:589.8px;top:80px;height:9.5px;background:#DDD9CF"><svg width="8" height="8" viewBox="0 0 8 8" style="position:absolute;left:0.5px;top:0px"><path d="M1.2 3.6l1.9 2.2l3.7-4.4" stroke="#5d514b" stroke-width="1.5" fill="none"/></svg></div>
<div class="a" style="left:462px;top:94px;width:31px;height:12px;background:#fff;"></div>
<div class="a" style="left:462px;top:106px;width:31px;height:1px;background:#9E9E99;"></div>
<div class="a" style="left:496px;top:93px;width:80px;height:12px;background:#EBEAD6;"></div>
<div class="a" style="left:496px;top:105px;width:80px;height:1px;background:#BDBCB3;"></div>
<div class="a" style="left:496px;top:106px;width:80px;height:1px;background:#A5A5A0;"></div>
<svg class="a" style="left:576.9px;top:94px" width="11" height="10" viewBox="0 0 11 10"><rect x="0.3" y="0.3" width="6.2" height="7.4" fill="#fff" stroke="#aeb5c6" stroke-width="0.6"/><path d="M1.6 2.6l1.4-1.2l1.3 1.3l-2.4 2.4h2.8" stroke="#8a8f9c" stroke-width="0.9" fill="none"/><circle cx="7.4" cy="6.8" r="2.7" fill="#fff" stroke="#cfd4e0" stroke-width="0.6"/><path d="M7.4 5.2v1.8h1.5" stroke="#7c8294" stroke-width="0.8" fill="none"/></svg>
<div class="cb" style="left:589.8px;top:93px;height:9.5px;background:#DDD9CF"><svg width="8" height="8" viewBox="0 0 8 8" style="position:absolute;left:0.5px;top:0px"><path d="M1.2 3.6l1.9 2.2l3.7-4.4" stroke="#5d514b" stroke-width="1.5" fill="none"/></svg></div>
<div class="a" style="left:462px;top:107px;width:31px;height:11px;background:#fff;"></div>
<div class="a" style="left:462px;top:118px;width:31px;height:1px;background:#9E9E99;"></div>
<div class="a" style="left:496px;top:107px;width:80px;height:11px;background:#EBEAD6;"></div>
<div class="a" style="left:496px;top:118px;width:80px;height:1px;background:#BDBCB3;"></div>
<div class="a" style="left:496px;top:119px;width:80px;height:1px;background:#A5A5A0;"></div>
<svg class="a" style="left:576.9px;top:108px" width="11" height="10" viewBox="0 0 11 10"><rect x="0.3" y="0.3" width="6.2" height="7.4" fill="#fff" stroke="#aeb5c6" stroke-width="0.6"/><path d="M1.6 2.6l1.4-1.2l1.3 1.3l-2.4 2.4h2.8" stroke="#8a8f9c" stroke-width="0.9" fill="none"/><circle cx="7.4" cy="6.8" r="2.7" fill="#fff" stroke="#cfd4e0" stroke-width="0.6"/><path d="M7.4 5.2v1.8h1.5" stroke="#7c8294" stroke-width="0.8" fill="none"/></svg>
<div class="cb" style="left:589.8px;top:107px;height:9.5px;background:#DDD9CF"><svg width="8" height="8" viewBox="0 0 8 8" style="position:absolute;left:0.5px;top:0px"><path d="M1.2 3.6l1.9 2.2l3.7-4.4" stroke="#5d514b" stroke-width="1.5" fill="none"/></svg></div>
<div class="a" style="left:462px;top:119px;width:31px;height:12px;background:#fff;"></div>
<div class="a" style="left:462px;top:131px;width:31px;height:1px;background:#9E9E99;"></div>
<div class="a" style="left:496px;top:120px;width:80px;height:12px;background:#EBEAD6;"></div>
<div class="a" style="left:496px;top:132px;width:80px;height:1px;background:#BDBCB3;"></div>
<div class="a" style="left:496px;top:133px;width:80px;height:1px;background:#A5A5A0;"></div>
<svg class="a" style="left:576.9px;top:121px" width="11" height="10" viewBox="0 0 11 10"><rect x="0.3" y="0.3" width="6.2" height="7.4" fill="#fff" stroke="#aeb5c6" stroke-width="0.6"/><path d="M1.6 2.6l1.4-1.2l1.3 1.3l-2.4 2.4h2.8" stroke="#8a8f9c" stroke-width="0.9" fill="none"/><circle cx="7.4" cy="6.8" r="2.7" fill="#fff" stroke="#cfd4e0" stroke-width="0.6"/><path d="M7.4 5.2v1.8h1.5" stroke="#7c8294" stroke-width="0.8" fill="none"/></svg>
<div class="cb" style="left:589.8px;top:120px;height:9.5px;background:#DDD9CF"><svg width="8" height="8" viewBox="0 0 8 8" style="position:absolute;left:0.5px;top:0px"><path d="M1.2 3.6l1.9 2.2l3.7-4.4" stroke="#5d514b" stroke-width="1.5" fill="none"/></svg></div>
<div class="a" style="left:462px;top:132px;width:31px;height:12px;background:#fff;"></div>
<div class="a" style="left:462px;top:144px;width:31px;height:1px;background:#9E9E99;"></div>
<div class="a" style="left:496px;top:134px;width:80px;height:11px;background:#EBEAD6;"></div>
<div class="a" style="left:496px;top:145px;width:80px;height:1px;background:#BDBCB3;"></div>
<div class="a" style="left:496px;top:146px;width:80px;height:1px;background:#A5A5A0;"></div>
<svg class="a" style="left:576.9px;top:135px" width="11" height="10" viewBox="0 0 11 10"><rect x="0.3" y="0.3" width="6.2" height="7.4" fill="#fff" stroke="#aeb5c6" stroke-width="0.6"/><path d="M1.6 2.6l1.4-1.2l1.3 1.3l-2.4 2.4h2.8" stroke="#8a8f9c" stroke-width="0.9" fill="none"/><circle cx="7.4" cy="6.8" r="2.7" fill="#fff" stroke="#cfd4e0" stroke-width="0.6"/><path d="M7.4 5.2v1.8h1.5" stroke="#7c8294" stroke-width="0.8" fill="none"/></svg>
<div class="cb" style="left:589.8px;top:134px;height:9.5px;background:#DDD9CF"><svg width="8" height="8" viewBox="0 0 8 8" style="position:absolute;left:0.5px;top:0px"><path d="M1.2 3.6l1.9 2.2l3.7-4.4" stroke="#5d514b" stroke-width="1.5" fill="none"/></svg></div>
<div class="a" style="left:462px;top:145px;width:31px;height:12px;background:#fff;"></div>
<div class="a" style="left:462px;top:157px;width:31px;height:1px;background:#9E9E99;"></div>
<div class="a" style="left:496px;top:147px;width:80px;height:12px;background:#EBEAD6;"></div>
<div class="a" style="left:496px;top:159px;width:80px;height:1px;background:#BDBCB3;"></div>
<div class="a" style="left:496px;top:160px;width:80px;height:1px;background:#A5A5A0;"></div>
<svg class="a" style="left:576.9px;top:148px" width="11" height="10" viewBox="0 0 11 10"><rect x="0.3" y="0.3" width="6.2" height="7.4" fill="#fff" stroke="#aeb5c6" stroke-width="0.6"/><path d="M1.6 2.6l1.4-1.2l1.3 1.3l-2.4 2.4h2.8" stroke="#8a8f9c" stroke-width="0.9" fill="none"/><circle cx="7.4" cy="6.8" r="2.7" fill="#fff" stroke="#cfd4e0" stroke-width="0.6"/><path d="M7.4 5.2v1.8h1.5" stroke="#7c8294" stroke-width="0.8" fill="none"/></svg>
<div class="cb" style="left:589.8px;top:147px;height:9.5px;background:#DDD9CF"><svg width="8" height="8" viewBox="0 0 8 8" style="position:absolute;left:0.5px;top:0px"><path d="M1.2 3.6l1.9 2.2l3.7-4.4" stroke="#5d514b" stroke-width="1.5" fill="none"/></svg></div>
<div class="a" style="left:462px;top:158px;width:31px;height:11px;background:#fff;"></div>
<div class="a" style="left:462px;top:169px;width:31px;height:1px;background:#9E9E99;"></div>
<div class="a" style="left:496px;top:161px;width:80px;height:12px;background:#EBEAD6;"></div>
<div class="a" style="left:496px;top:173px;width:80px;height:1px;background:#BDBCB3;"></div>
<div class="a" style="left:496px;top:174px;width:80px;height:1px;background:#A5A5A0;"></div>
<svg class="a" style="left:576.9px;top:162px" width="11" height="10" viewBox="0 0 11 10"><rect x="0.3" y="0.3" width="6.2" height="7.4" fill="#fff" stroke="#aeb5c6" stroke-width="0.6"/><path d="M1.6 2.6l1.4-1.2l1.3 1.3l-2.4 2.4h2.8" stroke="#8a8f9c" stroke-width="0.9" fill="none"/><circle cx="7.4" cy="6.8" r="2.7" fill="#fff" stroke="#cfd4e0" stroke-width="0.6"/><path d="M7.4 5.2v1.8h1.5" stroke="#7c8294" stroke-width="0.8" fill="none"/></svg>
<div class="cb" style="left:589.8px;top:161px;height:9.5px;background:#DDD9CF"><svg width="8" height="8" viewBox="0 0 8 8" style="position:absolute;left:0.5px;top:0px"><path d="M1.2 3.6l1.9 2.2l3.7-4.4" stroke="#5d514b" stroke-width="1.5" fill="none"/></svg></div>
<div class="a" style="left:462px;top:170px;width:31px;height:12px;background:#fff;"></div>
<div class="a" style="left:462px;top:182px;width:31px;height:1px;background:#9E9E99;"></div>
<div class="a" style="left:496px;top:175px;width:80px;height:11px;background:#EBEAD6;"></div>
<div class="a" style="left:496px;top:186px;width:80px;height:1px;background:#BDBCB3;"></div>
<div class="a" style="left:496px;top:187px;width:80px;height:1px;background:#A5A5A0;"></div>
<svg class="a" style="left:576.9px;top:176px" width="11" height="10" viewBox="0 0 11 10"><rect x="0.3" y="0.3" width="6.2" height="7.4" fill="#fff" stroke="#aeb5c6" stroke-width="0.6"/><path d="M1.6 2.6l1.4-1.2l1.3 1.3l-2.4 2.4h2.8" stroke="#8a8f9c" stroke-width="0.9" fill="none"/><circle cx="7.4" cy="6.8" r="2.7" fill="#fff" stroke="#cfd4e0" stroke-width="0.6"/><path d="M7.4 5.2v1.8h1.5" stroke="#7c8294" stroke-width="0.8" fill="none"/></svg>
<div class="cb" style="left:589.8px;top:175px;height:9.5px;background:#DDD9CF"><svg width="8" height="8" viewBox="0 0 8 8" style="position:absolute;left:0.5px;top:0px"><path d="M1.2 3.6l1.9 2.2l3.7-4.4" stroke="#5d514b" stroke-width="1.5" fill="none"/></svg></div>
<div class="a" style="left:462px;top:183px;width:31px;height:12px;background:#fff;"></div>
<div class="a" style="left:462px;top:195px;width:31px;height:1px;background:#9E9E99;"></div>
<div class="a" style="left:496px;top:188px;width:80px;height:12px;background:#EBEAD6;"></div>
<div class="a" style="left:496px;top:200px;width:80px;height:1px;background:#BDBCB3;"></div>
<div class="a" style="left:496px;top:201px;width:80px;height:1px;background:#A5A5A0;"></div>
<svg class="a" style="left:576.9px;top:189px" width="11" height="10" viewBox="0 0 11 10"><rect x="0.3" y="0.3" width="6.2" height="7.4" fill="#fff" stroke="#aeb5c6" stroke-width="0.6"/><path d="M1.6 2.6l1.4-1.2l1.3 1.3l-2.4 2.4h2.8" stroke="#8a8f9c" stroke-width="0.9" fill="none"/><circle cx="7.4" cy="6.8" r="2.7" fill="#fff" stroke="#cfd4e0" stroke-width="0.6"/><path d="M7.4 5.2v1.8h1.5" stroke="#7c8294" stroke-width="0.8" fill="none"/></svg>
<div class="cb" style="left:589.8px;top:188px;height:9.5px;background:#DDD9CF"><svg width="8" height="8" viewBox="0 0 8 8" style="position:absolute;left:0.5px;top:0px"><path d="M1.2 3.6l1.9 2.2l3.7-4.4" stroke="#5d514b" stroke-width="1.5" fill="none"/></svg></div>
<div class="a" style="left:462px;top:196px;width:31px;height:12px;background:#fff;"></div>
<div class="a" style="left:462px;top:208px;width:31px;height:1px;background:#9E9E99;"></div>
<div class="a" style="left:496px;top:202px;width:80px;height:11px;background:#EBEAD6;"></div>
<div class="a" style="left:496px;top:213px;width:80px;height:1px;background:#BDBCB3;"></div>
<div class="a" style="left:496px;top:214px;width:80px;height:1px;background:#A5A5A0;"></div>
<svg class="a" style="left:576.9px;top:203px" width="11" height="10" viewBox="0 0 11 10"><rect x="0.3" y="0.3" width="6.2" height="7.4" fill="#fff" stroke="#aeb5c6" stroke-width="0.6"/><path d="M1.6 2.6l1.4-1.2l1.3 1.3l-2.4 2.4h2.8" stroke="#8a8f9c" stroke-width="0.9" fill="none"/><circle cx="7.4" cy="6.8" r="2.7" fill="#fff" stroke="#cfd4e0" stroke-width="0.6"/><path d="M7.4 5.2v1.8h1.5" stroke="#7c8294" stroke-width="0.8" fill="none"/></svg>
<div class="cb" style="left:589.8px;top:202px;height:9.5px;background:#DDD9CF"><svg width="8" height="8" viewBox="0 0 8 8" style="position:absolute;left:0.5px;top:0px"><path d="M1.2 3.6l1.9 2.2l3.7-4.4" stroke="#5d514b" stroke-width="1.5" fill="none"/></svg></div>
<div class="a" style="left:462px;top:209px;width:31px;height:11px;background:#fff;"></div>
<div class="a" style="left:496px;top:215px;width:80px;height:11px;background:#EBEAD6;"></div>
<svg class="a" style="left:576.9px;top:216px" width="11" height="10" viewBox="0 0 11 10"><rect x="0.3" y="0.3" width="6.2" height="7.4" fill="#fff" stroke="#aeb5c6" stroke-width="0.6"/><path d="M1.6 2.6l1.4-1.2l1.3 1.3l-2.4 2.4h2.8" stroke="#8a8f9c" stroke-width="0.9" fill="none"/><circle cx="7.4" cy="6.8" r="2.7" fill="#fff" stroke="#cfd4e0" stroke-width="0.6"/><path d="M7.4 5.2v1.8h1.5" stroke="#7c8294" stroke-width="0.8" fill="none"/></svg>
<div class="cb" style="left:589.8px;top:215px;height:9.5px;background:#DDD9CF"><svg width="8" height="8" viewBox="0 0 8 8" style="position:absolute;left:0.5px;top:0px"><path d="M1.2 3.6l1.9 2.2l3.7-4.4" stroke="#5d514b" stroke-width="1.5" fill="none"/></svg></div>
</div>
<div class="a" style="left:10px;top:385px;width:1px;height:276px;background:#6E30C8;"></div>
<div class="a" style="left:7px;top:468px;width:1px;height:193px;background:#CDD0C6;"></div>
<div class="a" style="left:8px;top:468px;width:1px;height:193px;background:#E3E7DE;"></div>
<div class="a" style="left:9px;top:468px;width:1px;height:193px;background:#FAFAF8;"></div>
<div class="a" style="left:11px;top:468px;width:1px;height:193px;background:#C3A5FB;"></div>
<div class="a" style="left:615px;top:385px;width:12px;height:83px;background:#fff;"></div>
<div class="a sbtrack" style="left:615px;top:468px;width:12px;height:193px;"></div>
<div class="a sbbtn" style="left:615px;top:469px;height:10px"><svg width="6" height="3" viewBox="0 0 6 3" style="position:absolute;left:2px;top:3px"><path d="M0 3L3 0L6 3z" fill="#000"/></svg></div>
<div class="a sbbtn" style="left:615px;top:648px;height:12px"><svg width="6" height="3" viewBox="0 0 6 3" style="position:absolute;left:2px;top:4px"><path d="M0 0L3 3L6 0z" fill="#000"/></svg></div>
<div class="a sbbtn" style="left:615px;top:480px;height:20px"></div>
<div class="a" style="left:6px;top:366px;width:622px;height:296px;box-sizing:border-box;border:1px solid #5c5c5c;border-left-color:#7a7a7a;border-right-color:#9a9a9a;"></div>
<div class="a" style="left:633px;top:366px;width:622px;height:296px;background:#fff;"></div>
<div class="t b" style="left:644.70px;top:370px;font-size:9px;color:#787878;">ORMSDEM</div>
<svg class="a" style="left:694.4px;top:377.6px" width="5" height="3" viewBox="0 0 5 3"><path d="M0 0h5L2.5 2.8z" fill="#8c8c8c"/></svg>
<div class="t b" style="left:711.70px;top:370px;font-size:9.2px;color:#173E78;">View</div>
<svg class="a" style="left:734.3px;top:375px" width="6" height="3" viewBox="0 0 6 3"><path d="M0 0h6L3 3z" fill="#000"/></svg>
<div class="a" style="left:749px;top:368px;width:1px;height:16px;background:#c9c9c9;"></div>
<div class="a" style="left:785px;top:368px;width:1px;height:16px;background:#c9c9c9;"></div>
<div class="a" style="left:838px;top:368px;width:1px;height:16px;background:#c9c9c9;"></div>
<div class="a btn" style="left:754px;top:368px;width:25px;height:13px"></div>
<div class="t" style="left:757.20px;top:370px;transform:scaleX(0.9342);transform-origin:0 0;">Save</div>
<svg class="a" style="left:791px;top:370px" width="12" height="11" viewBox="0 0 12 11"><rect x="0.5" y="0.5" width="10" height="10" fill="#fff" stroke="#333" stroke-dasharray="1.6 1"/><rect x="1.5" y="4.5" width="7" height="6" fill="#b9d0f8" stroke="#2a4fa8"/><path d="M2 7.2h6M4 5v5.5M6.5 5v5.5" stroke="#3e6ad0" stroke-width="0.9"/><path d="M5.5 5.5L10 1M7.2 0.8h3v3" stroke="#222" stroke-width="1.2" fill="none"/></svg>
<div class="t" style="left:804.80px;top:370px;transform:scaleX(0.9466);transform-origin:0 0;">Detach</div>
<div class="t" style="left:843.20px;top:368px;transform:scaleX(0.9499);transform-origin:0 0;color:#1c3f94;">Alerts &amp; Events</div>
<div class="a" style="left:634px;top:384px;width:620px;height:1px;background:#4e4e4e;"></div>
<div class="a" style="left:634px;top:384px;width:608px;height:1px;background:#5A6E88;"></div>
<div class="a" style="left:634px;top:384px;width:608px;height:84px;background:#6484AB;"></div>
<div class="a" style="left:634px;top:384px;width:608px;height:1px;background:#67798F;"></div>
<div class="a" style="left:634px;top:385px;width:608px;height:1px;background:#69809E;"></div>
<div class="a" style="left:634px;top:464px;width:608px;height:3px;background:#6387A8;"></div>
<div class="a" style="left:634px;top:467px;width:608px;height:1px;background:#66819E;"></div>
<div class="a" style="left:634px;top:384px;width:3px;height:84px;background:#6080A6;"></div>
<div class="a" style="left:686px;top:385px;width:1px;height:83px;background:#7C95B5;"></div>
<div class="a" style="left:716px;top:385px;width:1px;height:83px;background:#7C95B5;"></div>
<div class="a" style="left:746px;top:385px;width:1px;height:83px;background:#7C95B5;"></div>
<div class="a" style="left:787px;top:385px;width:1px;height:83px;background:#7C95B5;"></div>
<div class="a" style="left:828px;top:385px;width:1px;height:83px;background:#7C95B5;"></div>
<div class="a" style="left:974px;top:385px;width:1px;height:83px;background:#7C95B5;"></div>
<div class="a" style="left:1023px;top:426px;width:1px;height:42px;background:#7C95B5;"></div>
<div class="a" style="left:1042px;top:426px;width:1px;height:42px;background:#7C95B5;"></div>
<div class="a" style="left:1093px;top:426px;width:1px;height:42px;background:#7C95B5;"></div>
<div class="a" style="left:1127px;top:426px;width:1px;height:42px;background:#7C95B5;"></div>
<div class="a" style="left:687px;top:425px;width:141px;height:1px;background:#7C95B5;"></div>
<div class="a" style="left:975px;top:425px;width:267px;height:1px;background:#7C95B5;"></div>
<div class="t b" style="left:665.86px;top:420.6px;transform:scaleX(1.0956);transform-origin:100% 0;color:#fff;">Date</div>
<div class="t b" style="left:692.70px;top:396px;transform:scaleX(0.8576);transform-origin:0 0;color:#fff;">OCC</div>
<div class="a" style="left:688.50px;top:406px;width:27.5px;height:11px;overflow:hidden"><div class="t b" style="left:0;top:0;transform:scaleX(1.0215);transform-origin:0 0;color:#fff;">(Room</div></div>
<div class="t b" style="left:723.40px;top:396px;transform:scaleX(0.9143);transform-origin:0 0;color:#fff;">Occ</div>
<div class="t b" style="left:723.40px;top:406px;transform:scaleX(1.2014);transform-origin:0 0;color:#fff;">(%)</div>
<div class="t b" style="left:757.80px;top:401.3px;transform:scaleX(0.9717);transform-origin:0 0;color:#fff;">ADR</div>
<div class="t b" style="left:791.00px;top:401.3px;transform:scaleX(1.0327);transform-origin:0 0;color:#fff;">RevPAR</div>
<div class="t b" style="left:695.85px;top:438px;transform:scaleX(0.9023);transform-origin:100% 0;color:#fff;">OTB</div>
<div class="t b" style="left:695.38px;top:448px;color:#fff;">Fore</div>
<div class="t b" style="left:725.85px;top:438px;transform:scaleX(0.9023);transform-origin:100% 0;color:#fff;">OTB</div>
<div class="t b" style="left:725.38px;top:448px;color:#fff;">Fore</div>
<div class="t b" style="left:766.85px;top:438px;transform:scaleX(0.9023);transform-origin:100% 0;color:#fff;">OTB</div>
<div class="t b" style="left:766.38px;top:448px;color:#fff;">Fore</div>
<div class="t b" style="left:807.85px;top:438px;transform:scaleX(0.9023);transform-origin:100% 0;color:#fff;">OTB</div>
<div class="t b" style="left:807.38px;top:448px;color:#fff;">Fore</div>
<div class="t b" style="left:856.80px;top:421.8px;transform:scaleX(1.0377);transform-origin:0 0;color:#fff;">Overbooking (House)</div>
<div class="t b" style="left:976.90px;top:401.3px;transform:scaleX(1.0215);transform-origin:0 0;color:#fff;">Hurdle</div>
<div class="t b" style="left:976.90px;top:442.3px;transform:scaleX(0.8635);transform-origin:0 0;color:#fff;">YC</div>
<div class="t b" style="left:1025.50px;top:442.3px;transform:scaleX(0.8865);transform-origin:0 0;color:#fff;">LOS</div>
<div class="t b" style="left:1044.30px;top:442.3px;transform:scaleX(1.0263);transform-origin:0 0;color:#fff;">ORMS/PMS</div>
<div class="a" style="left:1095.40px;top:442.3px;width:31.2px;height:11px;overflow:hidden"><div class="t b" style="left:0;top:0;transform:scaleX(1.0248);transform-origin:0 0;color:#fff;">Overrid</div></div>
<div class="t b" style="left:1129.40px;top:442.3px;transform:scaleX(1.0562);transform-origin:0 0;color:#fff;">Expiry Date/Approved</div>
<div class="a" style="left:634px;top:468px;width:608px;height:193px;overflow:hidden;">
<div class="a" style="left:0px;top:0px;width:608px;height:109px;background:#9FAFD0;"></div>
<div class="a" style="left:52px;top:0px;width:1px;height:109px;background:#8C96AA;"></div>
<div class="a" style="left:82px;top:0px;width:1px;height:109px;background:#8C96AA;"></div>
<div class="a" style="left:112px;top:0px;width:1px;height:109px;background:#8C96AA;"></div>
<div class="a" style="left:153px;top:0px;width:1px;height:109px;background:#8C96AA;"></div>
<div class="a" style="left:194px;top:0px;width:1px;height:109px;background:#8C96AA;"></div>
<div class="a" style="left:340px;top:0px;width:1px;height:109px;background:#8C96AA;"></div>
<div class="a" style="left:389px;top:0px;width:1px;height:109px;background:#8C96AA;"></div>
<div class="a" style="left:408px;top:0px;width:1px;height:109px;background:#8C96AA;"></div>
<div class="a" style="left:459px;top:0px;width:1px;height:109px;background:#8C96AA;"></div>
<div class="a" style="left:493px;top:0px;width:1px;height:109px;background:#8C96AA;"></div>
<div class="a" style="left:4px;top:108px;width:604px;height:1px;background:#6F7787;"></div>
<div class="t" style="left:40.38px;top:45px;transform:scaleX(0.9272);transform-origin:100% 0;">Fri</div>
<div class="t" style="left:12.47px;top:55px;">4/20/2012</div>
<div class="t" style="left:74.97px;top:40px;">0</div>
<div class="t" style="left:74.97px;top:60px;">0</div>
<div class="a" style="left:54px;top:54px;width:26px;height:1px;background:#E4E9F3;"></div>
<div class="t" style="left:93.15px;top:40px;">0.00</div>
<div class="t" style="left:93.15px;top:60px;">0.00</div>
<div class="a" style="left:84px;top:54px;width:26px;height:1px;background:#E4E9F3;"></div>
<div class="t" style="left:134.15px;top:40px;">0.00</div>
<div class="t" style="left:145.97px;top:60px;">0</div>
<div class="a" style="left:114px;top:54px;width:37px;height:1px;background:#E4E9F3;"></div>
<div class="t" style="left:175.15px;top:40px;">0.00</div>
<div class="t" style="left:175.15px;top:60px;">0.00</div>
<div class="a" style="left:155px;top:54px;width:37px;height:1px;background:#E4E9F3;"></div>
<div class="t" style="left:217.06px;top:30px;transform:scaleX(0.8984);transform-origin:100% 0;">Rooms</div>
<div class="t" style="left:250.40px;top:30px;">0</div>
<div class="t" style="left:211.41px;top:43px;transform:scaleX(0.9572);transform-origin:100% 0;">Override</div>
<div class="a" style="left:251px;top:42px;width:31px;height:11.5px;background:#fff;"></div>
<div class="t" style="left:207.61px;top:57px;transform:scaleX(0.9508);transform-origin:100% 0;color:#8b8f9a;">Approved</div>
<div class="cb" style="left:251px;top:56px;height:9.5px;background:#DDD9CF"><svg width="8" height="8" viewBox="0 0 8 8" style="position:absolute;left:0.5px;top:0px"><path d="M1.2 3.6l1.9 2.2l3.7-4.4" stroke="#5d514b" stroke-width="1.5" fill="none"/></svg></div>
<div class="t" style="left:200.06px;top:70px;transform:scaleX(0.9582);transform-origin:100% 0;color:#8b8f9a;">Expiry Date</div>
<div class="a" style="left:251px;top:69px;width:80px;height:11.5px;background:#EBEAD6;"></div>
<div class="a" style="left:332.5px;top:70px;width:8.5px;height:12px;overflow:hidden">
<svg class="a" style="left:0px;top:0px" width="11" height="10" viewBox="0 0 11 10"><rect x="0.3" y="0.3" width="6.2" height="7.4" fill="#fff" stroke="#aeb5c6" stroke-width="0.6"/><path d="M1.6 2.6l1.4-1.2l1.3 1.3l-2.4 2.4h2.8" stroke="#8a8f9c" stroke-width="0.9" fill="none"/><circle cx="7.4" cy="6.8" r="2.7" fill="#fff" stroke="#cfd4e0" stroke-width="0.6"/><path d="M7.4 5.2v1.8h1.5" stroke="#7c8294" stroke-width="0.8" fill="none"/></svg>
</div>
<div class="t" style="left:342.60px;top:10px;transform:scaleX(0.8759);transform-origin:0 0;">STANDARD</div>
<div class="t" style="left:391.60px;top:10px;">0</div>
<div class="t" style="left:410.20px;top:10px;">75/</div>
<div class="t" style="left:342.60px;top:24px;transform:scaleX(0.8759);transform-origin:0 0;">STANDARD</div>
<div class="t" style="left:391.60px;top:24px;">1</div>
<div class="t" style="left:410.20px;top:24px;">75/</div>
<div class="t" style="left:342.60px;top:38px;transform:scaleX(0.8759);transform-origin:0 0;">STANDARD</div>
<div class="t" style="left:391.60px;top:38px;">2</div>
<div class="t" style="left:410.20px;top:38px;">75/</div>
<div class="t" style="left:342.60px;top:52px;transform:scaleX(0.8759);transform-origin:0 0;">STANDARD</div>
<div class="t" style="left:391.60px;top:52px;">3</div>
<div class="t" style="left:410.20px;top:52px;">75/</div>
<div class="t" style="left:342.60px;top:67px;transform:scaleX(0.8759);transform-origin:0 0;">STANDARD</div>
<div class="t" style="left:391.60px;top:67px;">4</div>
<div class="t" style="left:410.20px;top:67px;">75/</div>
<div class="t" style="left:342.60px;top:81px;transform:scaleX(0.8759);transform-origin:0 0;">STANDARD</div>
<div class="t" style="left:391.60px;top:81px;">5</div>
<div class="t" style="left:410.20px;top:81px;">75/</div>
<div class="t" style="left:342.60px;top:95px;transform:scaleX(0.8759);transform-origin:0 0;">STANDARD</div>
<div class="t" style="left:391.60px;top:95px;">6</div>
<div class="t" style="left:410.20px;top:95px;">75/</div>
<div class="a" style="left:462px;top:10px;width:31px;height:12px;background:#fff;"></div>
<div class="a" style="left:462px;top:22px;width:31px;height:1px;background:#9E9E99;"></div>
<div class="a" style="left:496px;top:8px;width:80px;height:12px;background:#EBEAD6;"></div>
<div class="a" style="left:496px;top:20px;width:80px;height:1px;background:#BDBCB3;"></div>
<div class="a" style="left:496px;top:21px;width:80px;height:1px;background:#A5A5A0;"></div>
<svg class="a" style="left:576.9px;top:9px" width="11" height="10" viewBox="0 0 11 10"><rect x="0.3" y="0.3" width="6.2" height="7.4" fill="#fff" stroke="#aeb5c6" stroke-width="0.6"/><path d="M1.6 2.6l1.4-1.2l1.3 1.3l-2.4 2.4h2.8" stroke="#8a8f9c" stroke-width="0.9" fill="none"/><circle cx="7.4" cy="6.8" r="2.7" fill="#fff" stroke="#cfd4e0" stroke-width="0.6"/><path d="M7.4 5.2v1.8h1.5" stroke="#7c8294" stroke-width="0.8" fill="none"/></svg>
<div class="cb" style="left:589.8px;top:8px;height:9.5px;background:#fff"></div>
<div class="a" style="left:462px;top:23px;width:31px;height:12px;background:#fff;"></div>
<div class="a" style="left:462px;top:35px;width:31px;height:1px;background:#9E9E99;"></div>
<div class="a" style="left:496px;top:22px;width:80px;height:11px;background:#EBEAD6;"></div>
<div class="a" style="left:496px;top:33px;width:80px;height:1px;background:#BDBCB3;"></div>
<div class="a" style="left:496px;top:34px;width:80px;height:1px;background:#A5A5A0;"></div>
<svg class="a" style="left:576.9px;top:23px" width="11" height="10" viewBox="0 0 11 10"><rect x="0.3" y="0.3" width="6.2" height="7.4" fill="#fff" stroke="#aeb5c6" stroke-width="0.6"/><path d="M1.6 2.6l1.4-1.2l1.3 1.3l-2.4 2.4h2.8" stroke="#8a8f9c" stroke-width="0.9" fill="none"/><circle cx="7.4" cy="6.8" r="2.7" fill="#fff" stroke="#cfd4e0" stroke-width="0.6"/><path d="M7.4 5.2v1.8h1.5" stroke="#7c8294" stroke-width="0.8" fill="none"/></svg>
<div class="cb" style="left:589.8px;top:22px;height:9.5px;background:#fff"></div>
<div class="a" style="left:462px;top:36px;width:31px;height:12px;background:#fff;"></div>
<div class="a" style="left:462px;top:48px;width:31px;height:1px;background:#9E9E99;"></div>
<div class="a" style="left:496px;top:35px;width:80px;height:12px;background:#EBEAD6;"></div>
<div class="a" style="left:496px;top:47px;width:80px;height:1px;background:#BDBCB3;"></div>
<div class="a" style="left:496px;top:48px;width:80px;height:1px;background:#A5A5A0;"></div>
<svg class="a" style="left:576.9px;top:36px" width="11" height="10" viewBox="0 0 11 10"><rect x="0.3" y="0.3" width="6.2" height="7.4" fill="#fff" stroke="#aeb5c6" stroke-width="0.6"/><path d="M1.6 2.6l1.4-1.2l1.3 1.3l-2.4 2.4h2.8" stroke="#8a8f9c" stroke-width="0.9" fill="none"/><circle cx="7.4" cy="6.8" r="2.7" fill="#fff" stroke="#cfd4e0" stroke-width="0.6"/><path d="M7.4 5.2v1.8h1.5" stroke="#7c8294" stroke-width="0.8" fill="none"/></svg>
<div class="cb" style="left:589.8px;top:35px;height:9.5px;background:#fff"></div>
<div class="a" style="left:462px;top:49px;width:31px;height:12px;background:#fff;"></div>
<div class="a" style="left:462px;top:61px;width:31px;height:1px;background:#9E9E99;"></div>
<div class="a" style="left:496px;top:49px;width:80px;height:12px;background:#EBEAD6;"></div>
<div class="a" style="left:496px;top:61px;width:80px;height:1px;background:#BDBCB3;"></div>
<div class="a" style="left:496px;top:62px;width:80px;height:1px;background:#A5A5A0;"></div>
<svg class="a" style="left:576.9px;top:50px" width="11" height="10" viewBox="0 0 11 10"><rect x="0.3" y="0.3" width="6.2" height="7.4" fill="#fff" stroke="#aeb5c6" stroke-width="0.6"/><path d="M1.6 2.6l1.4-1.2l1.3 1.3l-2.4 2.4h2.8" stroke="#8a8f9c" stroke-width="0.9" fill="none"/><circle cx="7.4" cy="6.8" r="2.7" fill="#fff" stroke="#cfd4e0" stroke-width="0.6"/><path d="M7.4 5.2v1.8h1.5" stroke="#7c8294" stroke-width="0.8" fill="none"/></svg>
<div class="cb" style="left:589.8px;top:49px;height:9.5px;background:#fff"></div>
<div class="a" style="left:462px;top:62px;width:31px;height:11px;background:#fff;"></div>
<div class="a" style="left:462px;top:73px;width:31px;height:1px;background:#9E9E99;"></div>
<div class="a" style="left:496px;top:63px;width:80px;height:11px;background:#EBEAD6;"></div>
<div class="a" style="left:496px;top:74px;width:80px;height:1px;background:#BDBCB3;"></div>
<div class="a" style="left:496px;top:75px;width:80px;height:1px;background:#A5A5A0;"></div>
<svg class="a" style="left:576.9px;top:64px" width="11" height="10" viewBox="0 0 11 10"><rect x="0.3" y="0.3" width="6.2" height="7.4" fill="#fff" stroke="#aeb5c6" stroke-width="0.6"/><path d="M1.6 2.6l1.4-1.2l1.3 1.3l-2.4 2.4h2.8" stroke="#8a8f9c" stroke-width="0.9" fill="none"/><circle cx="7.4" cy="6.8" r="2.7" fill="#fff" stroke="#cfd4e0" stroke-width="0.6"/><path d="M7.4 5.2v1.8h1.5" stroke="#7c8294" stroke-width="0.8" fill="none"/></svg>
<div class="cb" style="left:589.8px;top:63px;height:9.5px;background:#fff"></div>
<div class="a" style="left:462px;top:74px;width:31px;height:12px;background:#fff;"></div>
<div class="a" style="left:462px;top:86px;width:31px;height:1px;background:#9E9E99;"></div>
<div class="a" style="left:496px;top:76px;width:80px;height:12px;background:#EBEAD6;"></div>
<div class="a" style="left:496px;top:88px;width:80px;height:1px;background:#BDBCB3;"></div>
<div class="a" style="left:496px;top:89px;width:80px;height:1px;background:#A5A5A0;"></div>
<svg class="a" style="left:576.9px;top:77px" width="11" height="10" viewBox="0 0 11 10"><rect x="0.3" y="0.3" width="6.2" height="7.4" fill="#fff" stroke="#aeb5c6" stroke-width="0.6"/><path d="M1.6 2.6l1.4-1.2l1.3 1.3l-2.4 2.4h2.8" stroke="#8a8f9c" stroke-width="0.9" fill="none"/><circle cx="7.4" cy="6.8" r="2.7" fill="#fff" stroke="#cfd4e0" stroke-width="0.6"/><path d="M7.4 5.2v1.8h1.5" stroke="#7c8294" stroke-width="0.8" fill="none"/></svg>
<div class="cb" style="left:589.8px;top:76px;height:9.5px;background:#fff"></div>
<div class="a" style="left:462px;top:87px;width:31px;height:11px;background:#fff;"></div>
<div class="a" style="left:496px;top:90px;width:80px;height:11px;background:#EBEAD6;"></div>
<svg class="a" style="left:576.9px;top:91px" width="11" height="10" viewBox="0 0 11 10"><rect x="0.3" y="0.3" width="6.2" height="7.4" fill="#fff" stroke="#aeb5c6" stroke-width="0.6"/><path d="M1.6 2.6l1.4-1.2l1.3 1.3l-2.4 2.4h2.8" stroke="#8a8f9c" stroke-width="0.9" fill="none"/><circle cx="7.4" cy="6.8" r="2.7" fill="#fff" stroke="#cfd4e0" stroke-width="0.6"/><path d="M7.4 5.2v1.8h1.5" stroke="#7c8294" stroke-width="0.8" fill="none"/></svg>
<div class="cb" style="left:589.8px;top:90px;height:9.5px;background:#fff"></div>
<div class="a" style="left:0px;top:109px;width:608px;height:109px;background:#FFFFFF;"></div>
<div class="a" style="left:52px;top:109px;width:1px;height:109px;background:#9B9B9B;"></div>
<div class="a" style="left:82px;top:109px;width:1px;height:109px;background:#9B9B9B;"></div>
<div class="a" style="left:112px;top:109px;width:1px;height:109px;background:#9B9B9B;"></div>
<div class="a" style="left:153px;top:109px;width:1px;height:109px;background:#9B9B9B;"></div>
<div class="a" style="left:194px;top:109px;width:1px;height:109px;background:#9B9B9B;"></div>
<div class="a" style="left:340px;top:109px;width:1px;height:109px;background:#9B9B9B;"></div>
<div class="a" style="left:389px;top:109px;width:1px;height:109px;background:#9B9B9B;"></div>
<div class="a" style="left:408px;top:109px;width:1px;height:109px;background:#9B9B9B;"></div>
<div class="a" style="left:459px;top:109px;width:1px;height:109px;background:#9B9B9B;"></div>
<div class="a" style="left:493px;top:109px;width:1px;height:109px;background:#9B9B9B;"></div>
<div class="t" style="left:37.53px;top:154px;transform:scaleX(0.9087);transform-origin:100% 0;">Sat</div>
<div class="t" style="left:12.47px;top:164px;">4/21/2012</div>
<div class="t" style="left:74.97px;top:150px;">0</div>
<div class="t" style="left:74.97px;top:169px;">0</div>
<div class="a" style="left:54px;top:163px;width:26px;height:1px;background:#8a8a8a;"></div>
<div class="t" style="left:93.15px;top:150px;">0.00</div>
<div class="t" style="left:93.15px;top:169px;">0.00</div>
<div class="a" style="left:84px;top:163px;width:26px;height:1px;background:#8a8a8a;"></div>
<div class="t" style="left:134.15px;top:150px;">0.00</div>
<div class="t" style="left:145.97px;top:169px;">0</div>
<div class="a" style="left:114px;top:163px;width:37px;height:1px;background:#8a8a8a;"></div>
<div class="t" style="left:175.15px;top:150px;">0.00</div>
<div class="t" style="left:175.15px;top:169px;">0.00</div>
<div class="a" style="left:155px;top:163px;width:37px;height:1px;background:#8a8a8a;"></div>
<div class="t" style="left:217.06px;top:140px;transform:scaleX(0.8984);transform-origin:100% 0;">Rooms</div>
<div class="t" style="left:250.40px;top:138px;">0</div>
<div class="t" style="left:211.41px;top:152px;transform:scaleX(0.9572);transform-origin:100% 0;">Override</div>
<div class="a" style="left:251px;top:150px;width:31px;height:13px;background:#fff;box-sizing:border-box;border:1px solid #c6c6c6;border-top-color:#a8a8a8;"></div>
<div class="t" style="left:207.61px;top:166px;transform:scaleX(0.9508);transform-origin:100% 0;color:#8d8d8d;">Approved</div>
<div class="cb" style="left:251px;top:164px;height:9.5px;background:#DDD9CF"><svg width="8" height="8" viewBox="0 0 8 8" style="position:absolute;left:0.5px;top:0px"><path d="M1.2 3.6l1.9 2.2l3.7-4.4" stroke="#5d514b" stroke-width="1.5" fill="none"/></svg></div>
<div class="t" style="left:200.06px;top:178px;transform:scaleX(0.9582);transform-origin:100% 0;color:#8d8d8d;">Expiry Date</div>
<div class="a" style="left:251px;top:178px;width:80px;height:12.5px;background:#EBEAD6;box-sizing:border-box;border:1px solid #c6c6c6;border-top-color:#a8a8a8;"></div>
<div class="a" style="left:332.5px;top:178px;width:8.5px;height:12px;overflow:hidden">
<svg class="a" style="left:0px;top:0px" width="12" height="11" viewBox="0 0 12 11"><rect x="0.5" y="1.5" width="6" height="7.2" fill="#fff" stroke="#979797" stroke-width="0.9"/><path d="M2 0.2v2M5 0.2v2" stroke="#8e8e8e" stroke-width="1"/><path d="M2 4.2l1.2-1l1.2 1.1l-2.2 2.3h2.6" stroke="#a9a9a9" stroke-width="0.8" fill="none"/><circle cx="7.9" cy="7.5" r="2.9" fill="#fff" stroke="#8f8f8f" stroke-width="0.9"/><path d="M7.9 5.9v1.8h1.5" stroke="#9a9a9a" stroke-width="0.8" fill="none"/></svg>
</div>
<div class="t" style="left:342.60px;top:119px;transform:scaleX(0.8759);transform-origin:0 0;">STANDARD</div>
<div class="t" style="left:391.60px;top:119px;">0</div>
<div class="t" style="left:410.20px;top:119px;">75/</div>
<div class="t" style="left:342.60px;top:133px;transform:scaleX(0.8759);transform-origin:0 0;">STANDARD</div>
<div class="t" style="left:391.60px;top:133px;">1</div>
<div class="t" style="left:410.20px;top:133px;">75/</div>
<div class="t" style="left:342.60px;top:147px;transform:scaleX(0.8759);transform-origin:0 0;">STANDARD</div>
<div class="t" style="left:391.60px;top:147px;">2</div>
<div class="t" style="left:410.20px;top:147px;">75/</div>
<div class="t" style="left:342.60px;top:162px;transform:scaleX(0.8759);transform-origin:0 0;">STANDARD</div>
<div class="t" style="left:391.60px;top:162px;">3</div>
<div class="t" style="left:410.20px;top:162px;">75/</div>
<div class="t" style="left:342.60px;top:176px;transform:scaleX(0.8759);transform-origin:0 0;">STANDARD</div>
<div class="t" style="left:391.60px;top:176px;">4</div>
<div class="t" style="left:410.20px;top:176px;">75/</div>
<div class="t" style="left:342.60px;top:190px;transform:scaleX(0.8759);transform-origin:0 0;">STANDARD</div>
<div class="t" style="left:391.60px;top:190px;">5</div>
<div class="t" style="left:410.20px;top:190px;">75/</div>
<div class="t" style="left:342.60px;top:204px;transform:scaleX(0.8759);transform-origin:0 0;">STANDARD</div>
<div class="t" style="left:391.60px;top:204px;">6</div>
<div class="t" style="left:410.20px;top:204px;">75/</div>
<div class="a" style="left:461px;top:119px;width:32px;height:12px;background:#fff;box-sizing:border-box;border-left:1px solid #d2d2d2;border-top:1px solid #c4c4c4;"></div>
<div class="a" style="left:461px;top:131px;width:32px;height:1px;background:#969696;"></div>
<div class="a" style="left:495px;top:116px;width:81px;height:13px;background:#EBEAD6;box-sizing:border-box;border:1px solid #BCBCB2;"></div>
<svg class="a" style="left:576.9px;top:116px" width="12" height="11" viewBox="0 0 12 11"><rect x="0.5" y="1.5" width="6" height="7.2" fill="#fff" stroke="#979797" stroke-width="0.9"/><path d="M2 0.2v2M5 0.2v2" stroke="#8e8e8e" stroke-width="1"/><path d="M2 4.2l1.2-1l1.2 1.1l-2.2 2.3h2.6" stroke="#a9a9a9" stroke-width="0.8" fill="none"/><circle cx="7.9" cy="7.5" r="2.9" fill="#fff" stroke="#8f8f8f" stroke-width="0.9"/><path d="M7.9 5.9v1.8h1.5" stroke="#9a9a9a" stroke-width="0.8" fill="none"/></svg>
<div class="cb" style="left:589.8px;top:116px;height:9.5px;background:#fff"></div>
<div class="a" style="left:461px;top:132px;width:32px;height:12px;background:#fff;box-sizing:border-box;border-left:1px solid #d2d2d2;"></div>
<div class="a" style="left:461px;top:144px;width:32px;height:1px;background:#969696;"></div>
<div class="a" style="left:495px;top:130px;width:81px;height:12px;background:#EBEAD6;box-sizing:border-box;border:1px solid #BCBCB2;"></div>
<svg class="a" style="left:576.9px;top:130px" width="12" height="11" viewBox="0 0 12 11"><rect x="0.5" y="1.5" width="6" height="7.2" fill="#fff" stroke="#979797" stroke-width="0.9"/><path d="M2 0.2v2M5 0.2v2" stroke="#8e8e8e" stroke-width="1"/><path d="M2 4.2l1.2-1l1.2 1.1l-2.2 2.3h2.6" stroke="#a9a9a9" stroke-width="0.8" fill="none"/><circle cx="7.9" cy="7.5" r="2.9" fill="#fff" stroke="#8f8f8f" stroke-width="0.9"/><path d="M7.9 5.9v1.8h1.5" stroke="#9a9a9a" stroke-width="0.8" fill="none"/></svg>
<div class="cb" style="left:589.8px;top:130px;height:9.5px;background:#fff"></div>
<div class="a" style="left:461px;top:145px;width:32px;height:12px;background:#fff;box-sizing:border-box;border-left:1px solid #d2d2d2;"></div>
<div class="a" style="left:461px;top:157px;width:32px;height:1px;background:#969696;"></div>
<div class="a" style="left:495px;top:143px;width:81px;height:13px;background:#EBEAD6;box-sizing:border-box;border:1px solid #BCBCB2;"></div>
<svg class="a" style="left:576.9px;top:143px" width="12" height="11" viewBox="0 0 12 11"><rect x="0.5" y="1.5" width="6" height="7.2" fill="#fff" stroke="#979797" stroke-width="0.9"/><path d="M2 0.2v2M5 0.2v2" stroke="#8e8e8e" stroke-width="1"/><path d="M2 4.2l1.2-1l1.2 1.1l-2.2 2.3h2.6" stroke="#a9a9a9" stroke-width="0.8" fill="none"/><circle cx="7.9" cy="7.5" r="2.9" fill="#fff" stroke="#8f8f8f" stroke-width="0.9"/><path d="M7.9 5.9v1.8h1.5" stroke="#9a9a9a" stroke-width="0.8" fill="none"/></svg>
<div class="cb" style="left:589.8px;top:143px;height:9.5px;background:#fff"></div>
<div class="a" style="left:461px;top:158px;width:32px;height:12px;background:#fff;box-sizing:border-box;border-left:1px solid #d2d2d2;"></div>
<div class="a" style="left:461px;top:170px;width:32px;height:1px;background:#969696;"></div>
<div class="a" style="left:495px;top:157px;width:81px;height:13px;background:#EBEAD6;box-sizing:border-box;border:1px solid #BCBCB2;"></div>
<svg class="a" style="left:576.9px;top:157px" width="12" height="11" viewBox="0 0 12 11"><rect x="0.5" y="1.5" width="6" height="7.2" fill="#fff" stroke="#979797" stroke-width="0.9"/><path d="M2 0.2v2M5 0.2v2" stroke="#8e8e8e" stroke-width="1"/><path d="M2 4.2l1.2-1l1.2 1.1l-2.2 2.3h2.6" stroke="#a9a9a9" stroke-width="0.8" fill="none"/><circle cx="7.9" cy="7.5" r="2.9" fill="#fff" stroke="#8f8f8f" stroke-width="0.9"/><path d="M7.9 5.9v1.8h1.5" stroke="#9a9a9a" stroke-width="0.8" fill="none"/></svg>
<div class="cb" style="left:589.8px;top:157px;height:9.5px;background:#fff"></div>
<div class="a" style="left:461px;top:171px;width:32px;height:11px;background:#fff;box-sizing:border-box;border-left:1px solid #d2d2d2;"></div>
<div class="a" style="left:461px;top:182px;width:32px;height:1px;background:#969696;"></div>
<div class="a" style="left:495px;top:171px;width:81px;height:12px;background:#EBEAD6;box-sizing:border-box;border:1px solid #BCBCB2;"></div>
<svg class="a" style="left:576.9px;top:171px" width="12" height="11" viewBox="0 0 12 11"><rect x="0.5" y="1.5" width="6" height="7.2" fill="#fff" stroke="#979797" stroke-width="0.9"/><path d="M2 0.2v2M5 0.2v2" stroke="#8e8e8e" stroke-width="1"/><path d="M2 4.2l1.2-1l1.2 1.1l-2.2 2.3h2.6" stroke="#a9a9a9" stroke-width="0.8" fill="none"/><circle cx="7.9" cy="7.5" r="2.9" fill="#fff" stroke="#8f8f8f" stroke-width="0.9"/><path d="M7.9 5.9v1.8h1.5" stroke="#9a9a9a" stroke-width="0.8" fill="none"/></svg>
<div class="cb" style="left:589.8px;top:171px;height:9.5px;background:#fff"></div>
<div class="a" style="left:461px;top:183px;width:32px;height:12px;background:#fff;box-sizing:border-box;border-left:1px solid #d2d2d2;"></div>
<div class="a" style="left:461px;top:195px;width:32px;height:1px;background:#969696;"></div>
<div class="a" style="left:495px;top:184px;width:81px;height:13px;background:#EBEAD6;box-sizing:border-box;border:1px solid #BCBCB2;"></div>
<svg class="a" style="left:576.9px;top:184px" width="12" height="11" viewBox="0 0 12 11"><rect x="0.5" y="1.5" width="6" height="7.2" fill="#fff" stroke="#979797" stroke-width="0.9"/><path d="M2 0.2v2M5 0.2v2" stroke="#8e8e8e" stroke-width="1"/><path d="M2 4.2l1.2-1l1.2 1.1l-2.2 2.3h2.6" stroke="#a9a9a9" stroke-width="0.8" fill="none"/><circle cx="7.9" cy="7.5" r="2.9" fill="#fff" stroke="#8f8f8f" stroke-width="0.9"/><path d="M7.9 5.9v1.8h1.5" stroke="#9a9a9a" stroke-width="0.8" fill="none"/></svg>
<div class="cb" style="left:589.8px;top:184px;height:9.5px;background:#fff"></div>
<div class="a" style="left:461px;top:196px;width:32px;height:11px;background:#fff;box-sizing:border-box;border-left:1px solid #d2d2d2;border-bottom:1px solid #cfcfcf;"></div>
<div class="a" style="left:495px;top:198px;width:81px;height:12px;background:#EBEAD6;box-sizing:border-box;border:1px solid #BCBCB2;"></div>
<svg class="a" style="left:576.9px;top:198px" width="12" height="11" viewBox="0 0 12 11"><rect x="0.5" y="1.5" width="6" height="7.2" fill="#fff" stroke="#979797" stroke-width="0.9"/><path d="M2 0.2v2M5 0.2v2" stroke="#8e8e8e" stroke-width="1"/><path d="M2 4.2l1.2-1l1.2 1.1l-2.2 2.3h2.6" stroke="#a9a9a9" stroke-width="0.8" fill="none"/><circle cx="7.9" cy="7.5" r="2.9" fill="#fff" stroke="#8f8f8f" stroke-width="0.9"/><path d="M7.9 5.9v1.8h1.5" stroke="#9a9a9a" stroke-width="0.8" fill="none"/></svg>
<div class="cb" style="left:589.8px;top:198px;height:9.5px;background:#fff"></div>
</div>
<div class="a" style="left:637px;top:385px;width:1px;height:276px;background:#6E30C8;"></div>
<div class="a" style="left:636px;top:468px;width:1px;height:193px;background:rgba(200,160,255,0.75);"></div>
<div class="a" style="left:1242px;top:385px;width:12px;height:83px;background:#fff;"></div>
<div class="a sbtrack" style="left:1242px;top:468px;width:12px;height:193px;"></div>
<div class="a sbbtn" style="left:1242px;top:469px;height:10px"><svg width="6" height="3" viewBox="0 0 6 3" style="position:absolute;left:2px;top:3px"><path d="M0 3L3 0L6 3z" fill="#000"/></svg></div>
<div class="a sbbtn" style="left:1242px;top:648px;height:12px"><svg width="6" height="3" viewBox="0 0 6 3" style="position:absolute;left:2px;top:4px"><path d="M0 0L3 3L6 0z" fill="#000"/></svg></div>
<div class="a sbbtn" style="left:1242px;top:480px;height:42px"></div>
<div class="a" style="left:633px;top:366px;width:622px;height:296px;box-sizing:border-box;border:1px solid #5c5c5c;border-left-color:#7a7a7a;border-right-color:#9a9a9a;"></div>
<div class="a" style="left:0px;top:0px;width:1257px;height:665px;box-sizing:border-box;border:1px solid #000;"></div>
</div></body></html>
